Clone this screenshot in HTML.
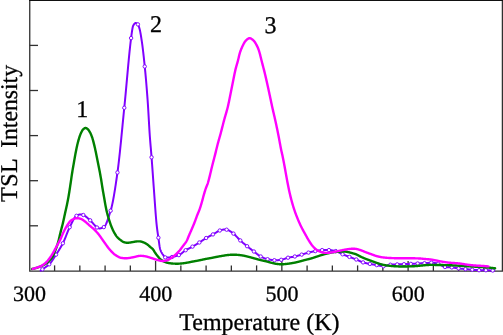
<!DOCTYPE html>
<html><head><meta charset="utf-8"><style>
html,body{margin:0;padding:0;background:#fff;width:503px;height:335px;overflow:hidden;}
svg{display:block;font-family:"Liberation Serif",serif;will-change:transform;}
</style></head><body>
<svg width="503" height="335" viewBox="0 0 503 335">
<path d="M29.75,271.15 V0 M29.1,271.15 H502.4 V0" fill="none" stroke="#303030" stroke-width="1.3"/>
<rect x="29" y="0" width="474" height="1.0" fill="#111"/>
<line x1="29.6" y1="225.80" x2="38" y2="225.80" stroke="#303030" stroke-width="1.3"/>
<line x1="29.6" y1="180.70" x2="38" y2="180.70" stroke="#303030" stroke-width="1.3"/>
<line x1="29.6" y1="135.60" x2="38" y2="135.60" stroke="#303030" stroke-width="1.3"/>
<line x1="29.6" y1="90.50" x2="38" y2="90.50" stroke="#303030" stroke-width="1.3"/>
<line x1="29.6" y1="45.40" x2="38" y2="45.40" stroke="#303030" stroke-width="1.3"/>
<line x1="54.59" y1="271" x2="54.59" y2="265.4" stroke="#303030" stroke-width="1.3"/>
<line x1="79.84" y1="271" x2="79.84" y2="265.4" stroke="#303030" stroke-width="1.3"/>
<line x1="105.09" y1="271" x2="105.09" y2="265.4" stroke="#303030" stroke-width="1.3"/>
<line x1="130.34" y1="271" x2="130.34" y2="265.4" stroke="#303030" stroke-width="1.3"/>
<line x1="155.59" y1="271" x2="155.59" y2="261.0" stroke="#303030" stroke-width="1.3"/>
<line x1="180.85" y1="271" x2="180.85" y2="265.4" stroke="#303030" stroke-width="1.3"/>
<line x1="206.10" y1="271" x2="206.10" y2="265.4" stroke="#303030" stroke-width="1.3"/>
<line x1="231.35" y1="271" x2="231.35" y2="265.4" stroke="#303030" stroke-width="1.3"/>
<line x1="256.60" y1="271" x2="256.60" y2="265.4" stroke="#303030" stroke-width="1.3"/>
<line x1="281.85" y1="271" x2="281.85" y2="261.0" stroke="#303030" stroke-width="1.3"/>
<line x1="307.10" y1="271" x2="307.10" y2="265.4" stroke="#303030" stroke-width="1.3"/>
<line x1="332.35" y1="271" x2="332.35" y2="265.4" stroke="#303030" stroke-width="1.3"/>
<line x1="357.60" y1="271" x2="357.60" y2="265.4" stroke="#303030" stroke-width="1.3"/>
<line x1="382.85" y1="271" x2="382.85" y2="265.4" stroke="#303030" stroke-width="1.3"/>
<line x1="408.11" y1="271" x2="408.11" y2="261.0" stroke="#303030" stroke-width="1.3"/>
<line x1="433.36" y1="271" x2="433.36" y2="265.4" stroke="#303030" stroke-width="1.3"/>
<line x1="458.61" y1="271" x2="458.61" y2="265.4" stroke="#303030" stroke-width="1.3"/>
<line x1="483.86" y1="271" x2="483.86" y2="265.4" stroke="#303030" stroke-width="1.3"/>
<path d="M40.60,270.60 L40.85,270.42 L41.10,270.24 L41.35,270.06 L41.60,269.88 L41.85,269.70 L42.10,269.52 L42.35,269.34 L42.60,269.16 L42.85,268.98 L43.10,268.80 L43.35,268.63 L43.60,268.46 L43.85,268.29 L44.10,268.13 L44.35,267.96 L44.60,267.79 L44.85,267.63 L45.10,267.46 L45.35,267.29 L45.60,267.12 L45.85,266.95 L46.10,266.78 L46.35,266.61 L46.60,266.43 L46.85,266.25 L47.10,266.06 L47.35,265.87 L47.60,265.68 L47.85,265.49 L48.10,265.28 L48.35,265.07 L48.60,264.86 L48.85,264.64 L49.10,264.41 L49.35,264.18 L49.60,263.93 L49.85,263.66 L50.10,263.39 L50.35,263.09 L50.60,262.79 L50.85,262.47 L51.10,262.15 L51.35,261.81 L51.60,261.46 L51.85,261.11 L52.10,260.74 L52.35,260.37 L52.60,260.00 L52.85,259.61 L53.10,259.23 L53.35,258.84 L53.60,258.44 L53.85,258.05 L54.10,257.65 L54.35,257.25 L54.60,256.86 L54.85,256.46 L55.10,256.06 L55.35,255.67 L55.60,255.28 L55.85,254.90 L56.10,254.52 L56.35,254.14 L56.60,253.76 L56.85,253.38 L57.10,253.00 L57.35,252.62 L57.60,252.23 L57.85,251.85 L58.10,251.46 L58.35,251.07 L58.60,250.68 L58.85,250.28 L59.10,249.88 L59.35,249.48 L59.60,249.08 L59.85,248.67 L60.10,248.25 L60.35,247.83 L60.60,247.41 L60.85,246.98 L61.10,246.55 L61.35,246.11 L61.60,245.66 L61.85,245.21 L62.10,244.75 L62.35,244.29 L62.60,243.81 L62.85,243.34 L63.10,242.84 L63.35,242.33 L63.60,241.80 L63.85,241.25 L64.10,240.68 L64.35,240.10 L64.60,239.50 L64.85,238.90 L65.10,238.29 L65.35,237.66 L65.60,237.03 L65.85,236.40 L66.10,235.76 L66.35,235.12 L66.60,234.49 L66.85,233.85 L67.10,233.21 L67.35,232.58 L67.60,231.96 L67.85,231.34 L68.10,230.74 L68.35,230.14 L68.60,229.56 L68.85,228.99 L69.10,228.44 L69.35,227.90 L69.60,227.38 L69.85,226.88 L70.10,226.37 L70.35,225.86 L70.60,225.35 L70.85,224.83 L71.10,224.31 L71.35,223.79 L71.60,223.28 L71.85,222.76 L72.10,222.26 L72.35,221.76 L72.60,221.27 L72.85,220.78 L73.10,220.31 L73.35,219.86 L73.60,219.41 L73.85,218.99 L74.10,218.58 L74.35,218.18 L74.60,217.81 L74.85,217.46 L75.10,217.14 L75.35,216.83 L75.60,216.56 L75.85,216.31 L76.10,216.09 L76.35,215.91 L76.60,215.75 L76.85,215.60 L77.10,215.47 L77.35,215.34 L77.60,215.21 L77.85,215.10 L78.10,214.99 L78.35,214.89 L78.60,214.80 L78.85,214.72 L79.10,214.65 L79.35,214.58 L79.60,214.53 L79.85,214.49 L80.10,214.45 L80.35,214.43 L80.60,214.41 L80.85,214.41 L81.10,214.42 L81.35,214.43 L81.60,214.46 L81.85,214.51 L82.10,214.56 L82.35,214.62 L82.60,214.70 L82.85,214.79 L83.10,214.89 L83.35,215.01 L83.60,215.13 L83.85,215.27 L84.10,215.41 L84.35,215.56 L84.60,215.71 L84.85,215.88 L85.10,216.04 L85.35,216.22 L85.60,216.40 L85.85,216.59 L86.10,216.78 L86.35,216.98 L86.60,217.18 L86.85,217.38 L87.10,217.59 L87.35,217.80 L87.60,218.02 L87.85,218.23 L88.10,218.45 L88.35,218.67 L88.60,218.90 L88.85,219.12 L89.10,219.35 L89.35,219.57 L89.60,219.80 L89.85,220.02 L90.10,220.25 L90.35,220.47 L90.60,220.71 L90.85,220.96 L91.10,221.21 L91.35,221.48 L91.60,221.75 L91.85,222.02 L92.10,222.30 L92.35,222.58 L92.60,222.87 L92.85,223.16 L93.10,223.45 L93.35,223.75 L93.60,224.04 L93.85,224.33 L94.10,224.62 L94.35,224.90 L94.60,225.18 L94.85,225.46 L95.10,225.73 L95.35,225.99 L95.60,226.25 L95.85,226.50 L96.10,226.74 L96.35,226.97 L96.60,227.19 L96.85,227.40 L97.10,227.59 L97.35,227.76 L97.60,227.91 L97.85,228.04 L98.10,228.15 L98.35,228.24 L98.60,228.32 L98.85,228.37 L99.10,228.41 L99.35,228.43 L99.60,228.44 L99.85,228.44 L100.10,228.42 L100.35,228.39 L100.60,228.34 L100.85,228.29 L101.10,228.22 L101.35,228.15 L101.60,228.07 L101.85,227.98 L102.10,227.88 L102.35,227.78 L102.60,227.67 L102.85,227.56 L103.10,227.44 L103.35,227.32 L103.60,227.20 L103.85,227.08 L104.10,226.92 L104.35,226.70 L104.60,226.44 L104.85,226.13 L105.10,225.77 L105.35,225.36 L105.60,224.92 L105.85,224.43 L106.10,223.91 L106.35,223.35 L106.60,222.76 L106.85,222.14 L107.10,221.49 L107.35,220.82 L107.60,220.12 L107.85,219.41 L108.10,218.67 L108.35,217.92 L108.60,217.15 L108.85,216.37 L109.10,215.58 L109.35,214.79 L109.60,213.99 L109.85,213.19 L110.10,212.38 L110.35,211.58 L110.60,210.79 L110.85,209.97 L111.10,209.10 L111.35,208.17 L111.60,207.18 L111.85,206.14 L112.10,205.05 L112.35,203.91 L112.60,202.72 L112.85,201.49 L113.10,200.20 L113.35,198.88 L113.60,197.51 L113.85,196.11 L114.10,194.66 L114.35,193.18 L114.60,191.67 L114.85,190.12 L115.10,188.54 L115.35,186.93 L115.60,185.30 L115.85,183.64 L116.10,181.95 L116.35,180.24 L116.60,178.51 L116.85,176.77 L117.10,175.00 L117.35,173.22 L117.60,171.42 L117.85,169.54 L118.10,167.59 L118.35,165.58 L118.60,163.50 L118.85,161.36 L119.10,159.16 L119.35,156.91 L119.60,154.61 L119.85,152.27 L120.10,149.89 L120.35,147.47 L120.60,145.02 L120.85,142.54 L121.10,140.04 L121.35,137.51 L121.60,134.97 L121.85,132.42 L122.10,129.86 L122.35,127.29 L122.60,124.72 L122.85,122.16 L123.10,119.60 L123.35,117.05 L123.60,114.52 L123.85,112.00 L124.10,109.51 L124.35,107.05 L124.60,104.54 L124.85,101.98 L125.10,99.38 L125.35,96.74 L125.60,94.06 L125.85,91.35 L126.10,88.62 L126.35,85.87 L126.60,83.11 L126.85,80.34 L127.10,77.57 L127.35,74.81 L127.60,72.06 L127.85,69.33 L128.10,66.62 L128.35,63.94 L128.60,61.30 L128.85,58.70 L129.10,56.14 L129.35,53.64 L129.60,51.19 L129.85,48.81 L130.10,46.50 L130.35,44.26 L130.60,42.11 L130.85,40.05 L131.10,38.07 L131.35,36.14 L131.60,34.24 L131.85,32.41 L132.10,30.69 L132.35,29.13 L132.60,27.77 L132.85,26.65 L133.10,25.83 L133.35,25.32 L133.60,24.94 L133.85,24.57 L134.10,24.22 L134.35,23.90 L134.60,23.61 L134.85,23.37 L135.10,23.19 L135.35,23.06 L135.60,23.00 L135.85,23.01 L136.10,23.07 L136.35,23.17 L136.60,23.29 L136.85,23.45 L137.10,23.63 L137.35,23.84 L137.60,24.07 L137.85,24.33 L138.10,24.64 L138.35,25.12 L138.60,25.73 L138.85,26.46 L139.10,27.26 L139.35,28.12 L139.60,29.00 L139.85,29.97 L140.10,31.09 L140.35,32.35 L140.60,33.72 L140.85,35.19 L141.10,36.74 L141.35,38.35 L141.60,40.00 L141.85,41.67 L142.10,43.38 L142.35,45.20 L142.60,47.12 L142.85,49.14 L143.10,51.25 L143.35,53.43 L143.60,55.68 L143.85,57.98 L144.10,60.33 L144.35,62.71 L144.60,65.12 L144.85,67.56 L145.10,70.07 L145.35,72.68 L145.60,75.37 L145.85,78.15 L146.10,81.02 L146.35,83.97 L146.60,87.01 L146.85,90.14 L147.10,93.34 L147.35,96.63 L147.60,100.00 L147.85,103.61 L148.10,107.55 L148.35,111.73 L148.60,116.06 L148.85,120.43 L149.10,124.75 L149.35,128.94 L149.60,132.88 L149.85,136.49 L150.10,139.79 L150.35,142.86 L150.60,145.80 L150.85,148.68 L151.10,151.58 L151.35,154.58 L151.60,157.76 L151.85,161.08 L152.10,164.48 L152.35,167.93 L152.60,171.41 L152.85,174.92 L153.10,178.43 L153.35,181.92 L153.60,185.38 L153.85,188.79 L154.10,192.14 L154.35,195.57 L154.60,199.06 L154.85,202.57 L155.10,206.06 L155.35,209.49 L155.60,212.82 L155.85,216.01 L156.10,219.01 L156.35,221.79 L156.60,224.30 L156.85,226.56 L157.10,228.62 L157.35,230.54 L157.60,232.35 L157.85,234.08 L158.10,235.76 L158.35,237.45 L158.60,239.20 L158.85,241.06 L159.10,242.95 L159.35,244.77 L159.60,246.43 L159.85,247.86 L160.10,248.97 L160.35,249.73 L160.60,250.41 L160.85,251.02 L161.10,251.59 L161.35,252.11 L161.60,252.59 L161.85,253.03 L162.10,253.44 L162.35,253.83 L162.60,254.19 L162.85,254.53 L163.10,254.88 L163.35,255.26 L163.60,255.65 L163.85,256.05 L164.10,256.42 L164.35,256.75 L164.60,257.04 L164.85,257.25 L165.10,257.38 L165.35,257.42 L165.60,257.44 L165.85,257.47 L166.10,257.48 L166.35,257.50 L166.60,257.51 L166.85,257.52 L167.10,257.52 L167.35,257.52 L167.60,257.52 L167.85,257.52 L168.10,257.51 L168.35,257.50 L168.60,257.48 L168.85,257.46 L169.10,257.44 L169.35,257.42 L169.60,257.39 L169.85,257.36 L170.10,257.33 L170.35,257.29 L170.60,257.26 L170.85,257.22 L171.10,257.18 L171.35,257.13 L171.60,257.09 L171.85,257.04 L172.10,256.99 L172.35,256.94 L172.60,256.88 L172.85,256.83 L173.10,256.78 L173.35,256.73 L173.60,256.67 L173.85,256.62 L174.10,256.56 L174.35,256.50 L174.60,256.44 L174.85,256.38 L175.10,256.32 L175.35,256.26 L175.60,256.19 L175.85,256.13 L176.10,256.06 L176.35,255.98 L176.60,255.91 L176.85,255.83 L177.10,255.75 L177.35,255.67 L177.60,255.58 L177.85,255.49 L178.10,255.40 L178.35,255.31 L178.60,255.21 L178.85,255.10 L179.10,254.99 L179.35,254.87 L179.60,254.73 L179.85,254.59 L180.10,254.43 L180.35,254.27 L180.60,254.10 L180.85,253.92 L181.10,253.73 L181.35,253.54 L181.60,253.35 L181.85,253.15 L182.10,252.94 L182.35,252.74 L182.60,252.53 L182.85,252.33 L183.10,252.12 L183.35,251.91 L183.60,251.71 L183.85,251.51 L184.10,251.31 L184.35,251.12 L184.60,250.93 L184.85,250.75 L185.10,250.57 L185.35,250.41 L185.60,250.25 L185.85,250.10 L186.10,249.95 L186.35,249.81 L186.60,249.67 L186.85,249.53 L187.10,249.39 L187.35,249.26 L187.60,249.13 L187.85,249.00 L188.10,248.87 L188.35,248.74 L188.60,248.61 L188.85,248.49 L189.10,248.36 L189.35,248.24 L189.60,248.11 L189.85,247.99 L190.10,247.86 L190.35,247.74 L190.60,247.61 L190.85,247.49 L191.10,247.36 L191.35,247.23 L191.60,247.09 L191.85,246.96 L192.10,246.82 L192.35,246.69 L192.60,246.54 L192.85,246.40 L193.10,246.26 L193.35,246.11 L193.60,245.97 L193.85,245.82 L194.10,245.68 L194.35,245.53 L194.60,245.39 L194.85,245.24 L195.10,245.09 L195.35,244.94 L195.60,244.79 L195.85,244.64 L196.10,244.49 L196.35,244.34 L196.60,244.19 L196.85,244.03 L197.10,243.88 L197.35,243.73 L197.60,243.57 L197.85,243.42 L198.10,243.26 L198.35,243.11 L198.60,242.95 L198.85,242.80 L199.10,242.64 L199.35,242.48 L199.60,242.33 L199.85,242.16 L200.10,242.00 L200.35,241.84 L200.60,241.67 L200.85,241.50 L201.10,241.33 L201.35,241.17 L201.60,240.99 L201.85,240.82 L202.10,240.65 L202.35,240.48 L202.60,240.31 L202.85,240.14 L203.10,239.97 L203.35,239.80 L203.60,239.63 L203.85,239.46 L204.10,239.29 L204.35,239.13 L204.60,238.96 L204.85,238.80 L205.10,238.64 L205.35,238.48 L205.60,238.33 L205.85,238.18 L206.10,238.03 L206.35,237.88 L206.60,237.74 L206.85,237.60 L207.10,237.46 L207.35,237.32 L207.60,237.18 L207.85,237.05 L208.10,236.92 L208.35,236.79 L208.60,236.66 L208.85,236.53 L209.10,236.40 L209.35,236.27 L209.60,236.14 L209.85,236.02 L210.10,235.89 L210.35,235.77 L210.60,235.64 L210.85,235.51 L211.10,235.38 L211.35,235.26 L211.60,235.13 L211.85,235.00 L212.10,234.87 L212.35,234.73 L212.60,234.60 L212.85,234.47 L213.10,234.33 L213.35,234.19 L213.60,234.04 L213.85,233.89 L214.10,233.74 L214.35,233.59 L214.60,233.44 L214.85,233.28 L215.10,233.12 L215.35,232.97 L215.60,232.81 L215.85,232.65 L216.10,232.49 L216.35,232.34 L216.60,232.18 L216.85,232.03 L217.10,231.88 L217.35,231.73 L217.60,231.58 L217.85,231.44 L218.10,231.30 L218.35,231.17 L218.60,231.04 L218.85,230.92 L219.10,230.80 L219.35,230.68 L219.60,230.58 L219.85,230.48 L220.10,230.38 L220.35,230.29 L220.60,230.21 L220.85,230.13 L221.10,230.06 L221.35,229.99 L221.60,229.92 L221.85,229.86 L222.10,229.81 L222.35,229.76 L222.60,229.72 L222.85,229.68 L223.10,229.64 L223.35,229.61 L223.60,229.59 L223.85,229.57 L224.10,229.56 L224.35,229.55 L224.60,229.55 L224.85,229.55 L225.10,229.55 L225.35,229.57 L225.60,229.58 L225.85,229.60 L226.10,229.63 L226.35,229.66 L226.60,229.70 L226.85,229.74 L227.10,229.80 L227.35,229.86 L227.60,229.94 L227.85,230.03 L228.10,230.12 L228.35,230.23 L228.60,230.34 L228.85,230.46 L229.10,230.59 L229.35,230.73 L229.60,230.87 L229.85,231.02 L230.10,231.17 L230.35,231.34 L230.60,231.50 L230.85,231.67 L231.10,231.85 L231.35,232.03 L231.60,232.21 L231.85,232.39 L232.10,232.58 L232.35,232.77 L232.60,232.96 L232.85,233.15 L233.10,233.34 L233.35,233.53 L233.60,233.73 L233.85,233.93 L234.10,234.14 L234.35,234.36 L234.60,234.59 L234.85,234.82 L235.10,235.06 L235.35,235.31 L235.60,235.56 L235.85,235.82 L236.10,236.08 L236.35,236.34 L236.60,236.61 L236.85,236.88 L237.10,237.15 L237.35,237.42 L237.60,237.69 L237.85,237.96 L238.10,238.22 L238.35,238.49 L238.60,238.75 L238.85,239.02 L239.10,239.27 L239.35,239.53 L239.60,239.77 L239.85,240.02 L240.10,240.25 L240.35,240.48 L240.60,240.71 L240.85,240.93 L241.10,241.16 L241.35,241.38 L241.60,241.60 L241.85,241.82 L242.10,242.04 L242.35,242.26 L242.60,242.47 L242.85,242.69 L243.10,242.90 L243.35,243.12 L243.60,243.33 L243.85,243.54 L244.10,243.75 L244.35,243.96 L244.60,244.17 L244.85,244.37 L245.10,244.58 L245.35,244.79 L245.60,244.99 L245.85,245.20 L246.10,245.40 L246.35,245.60 L246.60,245.81 L246.85,246.01 L247.10,246.21 L247.35,246.41 L247.60,246.62 L247.85,246.82 L248.10,247.02 L248.35,247.21 L248.60,247.41 L248.85,247.61 L249.10,247.81 L249.35,248.00 L249.60,248.20 L249.85,248.39 L250.10,248.59 L250.35,248.78 L250.60,248.98 L250.85,249.17 L251.10,249.36 L251.35,249.55 L251.60,249.75 L251.85,249.94 L252.10,250.13 L252.35,250.32 L252.60,250.51 L252.85,250.70 L253.10,250.89 L253.35,251.08 L253.60,251.27 L253.85,251.46 L254.10,251.65 L254.35,251.84 L254.60,252.03 L254.85,252.23 L255.10,252.43 L255.35,252.63 L255.60,252.83 L255.85,253.03 L256.10,253.23 L256.35,253.43 L256.60,253.63 L256.85,253.83 L257.10,254.02 L257.35,254.22 L257.60,254.41 L257.85,254.60 L258.10,254.79 L258.35,254.97 L258.60,255.16 L258.85,255.33 L259.10,255.51 L259.35,255.67 L259.60,255.84 L259.85,255.99 L260.10,256.15 L260.35,256.29 L260.60,256.43 L260.85,256.56 L261.10,256.69 L261.35,256.82 L261.60,256.95 L261.85,257.08 L262.10,257.20 L262.35,257.32 L262.60,257.44 L262.85,257.56 L263.10,257.68 L263.35,257.79 L263.60,257.90 L263.85,258.01 L264.10,258.11 L264.35,258.21 L264.60,258.31 L264.85,258.41 L265.10,258.50 L265.35,258.59 L265.60,258.67 L265.85,258.76 L266.10,258.83 L266.35,258.91 L266.60,258.98 L266.85,259.04 L267.10,259.10 L267.35,259.16 L267.60,259.21 L267.85,259.26 L268.10,259.31 L268.35,259.36 L268.60,259.41 L268.85,259.46 L269.10,259.51 L269.35,259.56 L269.60,259.60 L269.85,259.65 L270.10,259.69 L270.35,259.74 L270.60,259.78 L270.85,259.82 L271.10,259.86 L271.35,259.90 L271.60,259.94 L271.85,259.97 L272.10,260.01 L272.35,260.04 L272.60,260.07 L272.85,260.09 L273.10,260.12 L273.35,260.14 L273.60,260.16 L273.85,260.18 L274.10,260.19 L274.35,260.20 L274.60,260.21 L274.85,260.21 L275.10,260.22 L275.35,260.22 L275.60,260.22 L275.85,260.22 L276.10,260.22 L276.35,260.22 L276.60,260.21 L276.85,260.21 L277.10,260.20 L277.35,260.19 L277.60,260.17 L277.85,260.16 L278.10,260.15 L278.35,260.13 L278.60,260.11 L278.85,260.09 L279.10,260.06 L279.35,260.04 L279.60,260.01 L279.85,259.99 L280.10,259.96 L280.35,259.92 L280.60,259.89 L280.85,259.85 L281.10,259.82 L281.35,259.77 L281.60,259.73 L281.85,259.67 L282.10,259.62 L282.35,259.55 L282.60,259.48 L282.85,259.41 L283.10,259.33 L283.35,259.25 L283.60,259.17 L283.85,259.08 L284.10,259.00 L284.35,258.91 L284.60,258.82 L284.85,258.73 L285.10,258.63 L285.35,258.54 L285.60,258.45 L285.85,258.36 L286.10,258.28 L286.35,258.19 L286.60,258.11 L286.85,258.03 L287.10,257.95 L287.35,257.87 L287.60,257.81 L287.85,257.74 L288.10,257.68 L288.35,257.63 L288.60,257.57 L288.85,257.52 L289.10,257.47 L289.35,257.43 L289.60,257.38 L289.85,257.34 L290.10,257.30 L290.35,257.26 L290.60,257.22 L290.85,257.19 L291.10,257.15 L291.35,257.11 L291.60,257.08 L291.85,257.04 L292.10,257.00 L292.35,256.96 L292.60,256.92 L292.85,256.88 L293.10,256.84 L293.35,256.80 L293.60,256.76 L293.85,256.71 L294.10,256.66 L294.35,256.61 L294.60,256.56 L294.85,256.50 L295.10,256.44 L295.35,256.38 L295.60,256.32 L295.85,256.25 L296.10,256.19 L296.35,256.12 L296.60,256.06 L296.85,255.99 L297.10,255.92 L297.35,255.85 L297.60,255.78 L297.85,255.71 L298.10,255.64 L298.35,255.57 L298.60,255.50 L298.85,255.42 L299.10,255.35 L299.35,255.28 L299.60,255.20 L299.85,255.13 L300.10,255.06 L300.35,254.98 L300.60,254.91 L300.85,254.84 L301.10,254.76 L301.35,254.69 L301.60,254.62 L301.85,254.55 L302.10,254.47 L302.35,254.40 L302.60,254.33 L302.85,254.25 L303.10,254.18 L303.35,254.10 L303.60,254.02 L303.85,253.95 L304.10,253.87 L304.35,253.80 L304.60,253.72 L304.85,253.64 L305.10,253.57 L305.35,253.49 L305.60,253.41 L305.85,253.34 L306.10,253.26 L306.35,253.19 L306.60,253.12 L306.85,253.05 L307.10,252.97 L307.35,252.90 L307.60,252.83 L307.85,252.77 L308.10,252.70 L308.35,252.64 L308.60,252.57 L308.85,252.51 L309.10,252.45 L309.35,252.38 L309.60,252.32 L309.85,252.26 L310.10,252.20 L310.35,252.14 L310.60,252.08 L310.85,252.02 L311.10,251.97 L311.35,251.91 L311.60,251.85 L311.85,251.79 L312.10,251.74 L312.35,251.68 L312.60,251.63 L312.85,251.58 L313.10,251.53 L313.35,251.47 L313.60,251.42 L313.85,251.37 L314.10,251.32 L314.35,251.28 L314.60,251.23 L314.85,251.18 L315.10,251.14 L315.35,251.09 L315.60,251.05 L315.85,251.00 L316.10,250.96 L316.35,250.92 L316.60,250.87 L316.85,250.83 L317.10,250.78 L317.35,250.74 L317.60,250.69 L317.85,250.65 L318.10,250.61 L318.35,250.57 L318.60,250.53 L318.85,250.49 L319.10,250.45 L319.35,250.41 L319.60,250.38 L319.85,250.34 L320.10,250.31 L320.35,250.27 L320.60,250.24 L320.85,250.22 L321.10,250.19 L321.35,250.16 L321.60,250.14 L321.85,250.12 L322.10,250.10 L322.35,250.09 L322.60,250.07 L322.85,250.06 L323.10,250.05 L323.35,250.04 L323.60,250.03 L323.85,250.02 L324.10,250.02 L324.35,250.01 L324.60,250.01 L324.85,250.01 L325.10,250.01 L325.35,250.01 L325.60,250.01 L325.85,250.01 L326.10,250.02 L326.35,250.02 L326.60,250.03 L326.85,250.03 L327.10,250.04 L327.35,250.04 L327.60,250.05 L327.85,250.06 L328.10,250.07 L328.35,250.08 L328.60,250.09 L328.85,250.10 L329.10,250.11 L329.35,250.12 L329.60,250.13 L329.85,250.15 L330.10,250.17 L330.35,250.19 L330.60,250.21 L330.85,250.23 L331.10,250.26 L331.35,250.29 L331.60,250.32 L331.85,250.35 L332.10,250.39 L332.35,250.42 L332.60,250.46 L332.85,250.50 L333.10,250.54 L333.35,250.59 L333.60,250.63 L333.85,250.68 L334.10,250.73 L334.35,250.78 L334.60,250.83 L334.85,250.88 L335.10,250.94 L335.35,251.00 L335.60,251.06 L335.85,251.12 L336.10,251.19 L336.35,251.26 L336.60,251.35 L336.85,251.44 L337.10,251.54 L337.35,251.64 L337.60,251.75 L337.85,251.87 L338.10,251.99 L338.35,252.11 L338.60,252.24 L338.85,252.37 L339.10,252.50 L339.35,252.64 L339.60,252.78 L339.85,252.91 L340.10,253.05 L340.35,253.19 L340.60,253.32 L340.85,253.46 L341.10,253.59 L341.35,253.72 L341.60,253.84 L341.85,253.96 L342.10,254.08 L342.35,254.19 L342.60,254.30 L342.85,254.40 L343.10,254.50 L343.35,254.60 L343.60,254.70 L343.85,254.80 L344.10,254.90 L344.35,255.00 L344.60,255.09 L344.85,255.19 L345.10,255.28 L345.35,255.38 L345.60,255.47 L345.85,255.57 L346.10,255.66 L346.35,255.75 L346.60,255.85 L346.85,255.94 L347.10,256.03 L347.35,256.12 L347.60,256.22 L347.85,256.31 L348.10,256.40 L348.35,256.49 L348.60,256.59 L348.85,256.68 L349.10,256.78 L349.35,256.87 L349.60,256.97 L349.85,257.06 L350.10,257.16 L350.35,257.25 L350.60,257.34 L350.85,257.44 L351.10,257.53 L351.35,257.63 L351.60,257.72 L351.85,257.81 L352.10,257.91 L352.35,258.00 L352.60,258.09 L352.85,258.19 L353.10,258.28 L353.35,258.38 L353.60,258.47 L353.85,258.57 L354.10,258.66 L354.35,258.76 L354.60,258.85 L354.85,258.95 L355.10,259.05 L355.35,259.14 L355.60,259.24 L355.85,259.34 L356.10,259.44 L356.35,259.54 L356.60,259.64 L356.85,259.75 L357.10,259.86 L357.35,259.97 L357.60,260.08 L357.85,260.19 L358.10,260.31 L358.35,260.43 L358.60,260.54 L358.85,260.66 L359.10,260.78 L359.35,260.90 L359.60,261.01 L359.85,261.13 L360.10,261.24 L360.35,261.36 L360.60,261.47 L360.85,261.58 L361.10,261.68 L361.35,261.79 L361.60,261.89 L361.85,261.99 L362.10,262.08 L362.35,262.17 L362.60,262.25 L362.85,262.33 L363.10,262.41 L363.35,262.48 L363.60,262.55 L363.85,262.62 L364.10,262.68 L364.35,262.75 L364.60,262.81 L364.85,262.87 L365.10,262.93 L365.35,262.99 L365.60,263.05 L365.85,263.10 L366.10,263.16 L366.35,263.21 L366.60,263.26 L366.85,263.32 L367.10,263.37 L367.35,263.42 L367.60,263.47 L367.85,263.51 L368.10,263.56 L368.35,263.61 L368.60,263.66 L368.85,263.70 L369.10,263.75 L369.35,263.80 L369.60,263.84 L369.85,263.89 L370.10,263.94 L370.35,263.98 L370.60,264.03 L370.85,264.08 L371.10,264.12 L371.35,264.17 L371.60,264.21 L371.85,264.26 L372.10,264.30 L372.35,264.35 L372.60,264.39 L372.85,264.43 L373.10,264.48 L373.35,264.52 L373.60,264.57 L373.85,264.61 L374.10,264.65 L374.35,264.70 L374.60,264.74 L374.85,264.78 L375.10,264.82 L375.35,264.87 L375.60,264.91 L375.85,264.95 L376.10,264.99 L376.35,265.04 L376.60,265.08 L376.85,265.12 L377.10,265.17 L377.35,265.21 L377.60,265.26 L377.85,265.31 L378.10,265.36 L378.35,265.41 L378.60,265.47 L378.85,265.52 L379.10,265.57 L379.35,265.62 L379.60,265.67 L379.85,265.72 L380.10,265.77 L380.35,265.82 L380.60,265.87 L380.85,265.91 L381.10,265.95 L381.35,265.99 L381.60,266.03 L381.85,266.07 L382.10,266.10 L382.35,266.13 L382.60,266.15 L382.85,266.17 L383.10,266.18 L383.35,266.19 L383.60,266.20 L383.85,266.20 L384.10,266.18 L384.35,266.16 L384.60,266.13 L384.85,266.08 L385.10,266.04 L385.35,265.98 L385.60,265.92 L385.85,265.85 L386.10,265.78 L386.35,265.71 L386.60,265.63 L386.85,265.55 L387.10,265.47 L387.35,265.39 L387.60,265.31 L387.85,265.24 L388.10,265.16 L388.35,265.09 L388.60,265.02 L388.85,264.95 L389.10,264.89 L389.35,264.84 L389.60,264.79 L389.85,264.75 L390.10,264.72 L390.35,264.70 L390.60,264.69 L390.85,264.67 L391.10,264.66 L391.35,264.64 L391.60,264.63 L391.85,264.61 L392.10,264.60 L392.35,264.59 L392.60,264.58 L392.85,264.56 L393.10,264.55 L393.35,264.54 L393.60,264.53 L393.85,264.52 L394.10,264.51 L394.35,264.50 L394.60,264.49 L394.85,264.48 L395.10,264.47 L395.35,264.46 L395.60,264.45 L395.85,264.44 L396.10,264.44 L396.35,264.43 L396.60,264.42 L396.85,264.41 L397.10,264.40 L397.35,264.39 L397.60,264.39 L397.85,264.38 L398.10,264.37 L398.35,264.37 L398.60,264.36 L398.85,264.35 L399.10,264.34 L399.35,264.34 L399.60,264.33 L399.85,264.32 L400.10,264.32 L400.35,264.31 L400.60,264.30 L400.85,264.30 L401.10,264.29 L401.35,264.28 L401.60,264.28 L401.85,264.27 L402.10,264.26 L402.35,264.25 L402.60,264.25 L402.85,264.24 L403.10,264.23 L403.35,264.22 L403.60,264.21 L403.85,264.21 L404.10,264.20 L404.35,264.19 L404.60,264.18 L404.85,264.17 L405.10,264.16 L405.35,264.15 L405.60,264.14 L405.85,264.13 L406.10,264.12 L406.35,264.11 L406.60,264.10 L406.85,264.09 L407.10,264.08 L407.35,264.07 L407.60,264.05 L407.85,264.04 L408.10,264.03 L408.35,264.02 L408.60,264.01 L408.85,264.00 L409.10,263.99 L409.35,263.97 L409.60,263.96 L409.85,263.95 L410.10,263.94 L410.35,263.92 L410.60,263.91 L410.85,263.90 L411.10,263.89 L411.35,263.87 L411.60,263.86 L411.85,263.85 L412.10,263.83 L412.35,263.82 L412.60,263.80 L412.85,263.79 L413.10,263.77 L413.35,263.76 L413.60,263.74 L413.85,263.73 L414.10,263.71 L414.35,263.69 L414.60,263.68 L414.85,263.66 L415.10,263.65 L415.35,263.63 L415.60,263.62 L415.85,263.60 L416.10,263.59 L416.35,263.57 L416.60,263.56 L416.85,263.54 L417.10,263.53 L417.35,263.52 L417.60,263.50 L417.85,263.49 L418.10,263.48 L418.35,263.47 L418.60,263.45 L418.85,263.44 L419.10,263.43 L419.35,263.42 L419.60,263.41 L419.85,263.40 L420.10,263.39 L420.35,263.38 L420.60,263.37 L420.85,263.36 L421.10,263.35 L421.35,263.34 L421.60,263.33 L421.85,263.32 L422.10,263.31 L422.35,263.30 L422.60,263.29 L422.85,263.27 L423.10,263.26 L423.35,263.25 L423.60,263.24 L423.85,263.23 L424.10,263.22 L424.35,263.21 L424.60,263.19 L424.85,263.18 L425.10,263.16 L425.35,263.15 L425.60,263.13 L425.85,263.11 L426.10,263.10 L426.35,263.08 L426.60,263.06 L426.85,263.04 L427.10,263.01 L427.35,262.99 L427.60,262.97 L427.85,262.95 L428.10,262.93 L428.35,262.91 L428.60,262.89 L428.85,262.87 L429.10,262.85 L429.35,262.83 L429.60,262.81 L429.85,262.79 L430.10,262.77 L430.35,262.75 L430.60,262.74 L430.85,262.72 L431.10,262.71 L431.35,262.70 L431.60,262.69 L431.85,262.69 L432.10,262.69 L432.35,262.70 L432.60,262.71 L432.85,262.72 L433.10,262.74 L433.35,262.77 L433.60,262.79 L433.85,262.83 L434.10,262.86 L434.35,262.90 L434.60,262.94 L434.85,262.98 L435.10,263.03 L435.35,263.08 L435.60,263.13 L435.85,263.18 L436.10,263.23 L436.35,263.29 L436.60,263.34 L436.85,263.40 L437.10,263.46 L437.35,263.52 L437.60,263.58 L437.85,263.64 L438.10,263.69 L438.35,263.76 L438.60,263.84 L438.85,263.93 L439.10,264.04 L439.35,264.15 L439.60,264.27 L439.85,264.41 L440.10,264.54 L440.35,264.69 L440.60,264.84 L440.85,264.99 L441.10,265.15 L441.35,265.30 L441.60,265.46 L441.85,265.62 L442.10,265.77 L442.35,265.92 L442.60,266.07 L442.85,266.21 L443.10,266.34 L443.35,266.47 L443.60,266.58 L443.85,266.69 L444.10,266.78 L444.35,266.86 L444.60,266.93 L444.85,266.98 L445.10,267.02 L445.35,267.06 L445.60,267.09 L445.85,267.11 L446.10,267.13 L446.35,267.15 L446.60,267.17 L446.85,267.18 L447.10,267.19 L447.35,267.20 L447.60,267.21 L447.85,267.21 L448.10,267.22 L448.35,267.22 L448.60,267.23 L448.85,267.23 L449.10,267.23 L449.35,267.24 L449.60,267.25 L449.85,267.25 L450.10,267.26 L450.35,267.28 L450.60,267.29 L450.85,267.31 L451.10,267.33 L451.35,267.35 L451.60,267.38 L451.85,267.41 L452.10,267.44 L452.35,267.48 L452.60,267.51 L452.85,267.55 L453.10,267.59 L453.35,267.62 L453.60,267.66 L453.85,267.70 L454.10,267.74 L454.35,267.78 L454.60,267.82 L454.85,267.86 L455.10,267.90 L455.35,267.94 L455.60,267.98 L455.85,268.01 L456.10,268.05 L456.35,268.09 L456.60,268.13 L456.85,268.17 L457.10,268.20 L457.35,268.24 L457.60,268.27 L457.85,268.31 L458.10,268.34 L458.35,268.37 L458.60,268.40 L458.85,268.43 L459.10,268.46 L459.35,268.49 L459.60,268.52 L459.85,268.54 L460.10,268.57 L460.35,268.60 L460.60,268.63 L460.85,268.65 L461.10,268.68 L461.35,268.71 L461.60,268.73 L461.85,268.76 L462.10,268.78 L462.35,268.81 L462.60,268.83 L462.85,268.86 L463.10,268.88 L463.35,268.90 L463.60,268.93 L463.85,268.95 L464.10,268.98 L464.35,269.00 L464.60,269.02 L464.85,269.05 L465.10,269.07 L465.35,269.09 L465.60,269.12 L465.85,269.14 L466.10,269.16 L466.35,269.19 L466.60,269.21 L466.85,269.23 L467.10,269.26 L467.35,269.28 L467.60,269.30 L467.85,269.32 L468.10,269.35 L468.35,269.37 L468.60,269.39 L468.85,269.41 L469.10,269.44 L469.35,269.46 L469.60,269.48 L469.85,269.50 L470.10,269.52 L470.35,269.54 L470.60,269.56 L470.85,269.59 L471.10,269.61 L471.35,269.63 L471.60,269.65 L471.85,269.67 L472.10,269.69 L472.35,269.71 L472.60,269.73 L472.85,269.75 L473.10,269.77 L473.35,269.79 L473.60,269.82 L473.85,269.84 L474.10,269.86 L474.35,269.88 L474.60,269.90 L474.85,269.93 L475.10,269.95 L475.35,269.97 L475.60,269.99 L475.85,270.01 L476.10,270.03 L476.35,270.05 L476.60,270.07 L476.85,270.09 L477.10,270.10 L477.35,270.12 L477.60,270.13 L477.85,270.15 L478.10,270.16 L478.35,270.17 L478.60,270.18 L478.85,270.19 L479.10,270.20 L479.35,270.21 L479.60,270.21 L479.85,270.22 L480.10,270.22 L480.35,270.22 L480.60,270.22 L480.85,270.22 L481.10,270.22 L481.35,270.22 L481.60,270.22 L481.85,270.22 L482.10,270.22 L482.35,270.21 L482.60,270.21 L482.85,270.21 L483.10,270.21 L483.35,270.20 L483.60,270.20 L483.85,270.20 L484.10,270.20 L484.35,270.19 L484.60,270.19 L484.85,270.19 L485.10,270.19 L485.35,270.19 L485.60,270.20 L485.85,270.20 L486.10,270.20 L486.35,270.21 L486.60,270.22 L486.85,270.22 L487.10,270.23 L487.35,270.24 L487.60,270.26 L487.85,270.27 L488.10,270.28 L488.35,270.29 L488.60,270.31 L488.85,270.32 L489.10,270.34 L489.35,270.35 L489.60,270.36 L489.85,270.38 L490.10,270.39 L490.35,270.41 L490.60,270.42 L490.85,270.43 L491.10,270.44 L491.35,270.46 L491.60,270.47 L491.85,270.48 L492.10,270.48 L492.35,270.49 L492.60,270.50 L492.85,270.50 L493.10,270.49 L493.35,270.46 L493.60,270.42 L493.85,270.38 L494.10,270.34 L494.30,270.30" fill="none" stroke="#8000ff" stroke-width="2.0" stroke-linejoin="round" stroke-linecap="round"/>
<circle cx="42.40" cy="269.30" r="1.7" fill="#fff" stroke="#8000ff" stroke-width="0.95"/>
<circle cx="49.22" cy="264.30" r="1.7" fill="#fff" stroke="#8000ff" stroke-width="0.95"/>
<circle cx="56.05" cy="254.60" r="1.7" fill="#fff" stroke="#8000ff" stroke-width="0.95"/>
<circle cx="62.87" cy="243.30" r="1.7" fill="#fff" stroke="#8000ff" stroke-width="0.95"/>
<circle cx="69.69" cy="227.20" r="1.7" fill="#fff" stroke="#8000ff" stroke-width="0.95"/>
<circle cx="76.51" cy="215.80" r="1.7" fill="#fff" stroke="#8000ff" stroke-width="0.95"/>
<circle cx="83.34" cy="215.00" r="1.7" fill="#fff" stroke="#8000ff" stroke-width="0.95"/>
<circle cx="90.16" cy="220.30" r="1.7" fill="#fff" stroke="#8000ff" stroke-width="0.95"/>
<circle cx="96.98" cy="227.50" r="1.7" fill="#fff" stroke="#8000ff" stroke-width="0.95"/>
<circle cx="103.81" cy="227.10" r="1.7" fill="#fff" stroke="#8000ff" stroke-width="0.95"/>
<circle cx="110.63" cy="210.70" r="1.7" fill="#fff" stroke="#8000ff" stroke-width="0.95"/>
<circle cx="117.45" cy="172.50" r="1.7" fill="#fff" stroke="#8000ff" stroke-width="0.95"/>
<circle cx="124.27" cy="107.80" r="1.7" fill="#fff" stroke="#8000ff" stroke-width="0.95"/>
<circle cx="131.10" cy="38.10" r="1.7" fill="#fff" stroke="#8000ff" stroke-width="0.95"/>
<circle cx="137.92" cy="24.40" r="1.7" fill="#fff" stroke="#8000ff" stroke-width="0.95"/>
<circle cx="144.74" cy="66.50" r="1.7" fill="#fff" stroke="#8000ff" stroke-width="0.95"/>
<circle cx="151.56" cy="157.30" r="1.7" fill="#fff" stroke="#8000ff" stroke-width="0.95"/>
<circle cx="158.39" cy="237.70" r="1.7" fill="#fff" stroke="#8000ff" stroke-width="0.95"/>
<circle cx="165.21" cy="257.40" r="1.7" fill="#fff" stroke="#8000ff" stroke-width="0.95"/>
<circle cx="172.03" cy="257.00" r="1.7" fill="#fff" stroke="#8000ff" stroke-width="0.95"/>
<circle cx="178.86" cy="255.10" r="1.7" fill="#fff" stroke="#8000ff" stroke-width="0.95"/>
<circle cx="185.68" cy="250.20" r="1.7" fill="#fff" stroke="#8000ff" stroke-width="0.95"/>
<circle cx="192.50" cy="246.60" r="1.7" fill="#fff" stroke="#8000ff" stroke-width="0.95"/>
<circle cx="199.32" cy="242.50" r="1.7" fill="#fff" stroke="#8000ff" stroke-width="0.95"/>
<circle cx="206.15" cy="238.00" r="1.7" fill="#fff" stroke="#8000ff" stroke-width="0.95"/>
<circle cx="212.97" cy="234.40" r="1.7" fill="#fff" stroke="#8000ff" stroke-width="0.95"/>
<circle cx="219.79" cy="230.50" r="1.7" fill="#fff" stroke="#8000ff" stroke-width="0.95"/>
<circle cx="226.62" cy="229.70" r="1.7" fill="#fff" stroke="#8000ff" stroke-width="0.95"/>
<circle cx="233.44" cy="233.60" r="1.7" fill="#fff" stroke="#8000ff" stroke-width="0.95"/>
<circle cx="240.26" cy="240.40" r="1.7" fill="#fff" stroke="#8000ff" stroke-width="0.95"/>
<circle cx="247.08" cy="246.20" r="1.7" fill="#fff" stroke="#8000ff" stroke-width="0.95"/>
<circle cx="253.91" cy="251.50" r="1.7" fill="#fff" stroke="#8000ff" stroke-width="0.95"/>
<circle cx="260.73" cy="256.50" r="1.7" fill="#fff" stroke="#8000ff" stroke-width="0.95"/>
<circle cx="267.55" cy="259.20" r="1.7" fill="#fff" stroke="#8000ff" stroke-width="0.95"/>
<circle cx="274.38" cy="260.20" r="1.7" fill="#fff" stroke="#8000ff" stroke-width="0.95"/>
<circle cx="281.20" cy="259.80" r="1.7" fill="#fff" stroke="#8000ff" stroke-width="0.95"/>
<circle cx="288.02" cy="257.70" r="1.7" fill="#fff" stroke="#8000ff" stroke-width="0.95"/>
<circle cx="294.84" cy="256.50" r="1.7" fill="#fff" stroke="#8000ff" stroke-width="0.95"/>
<circle cx="301.67" cy="254.60" r="1.7" fill="#fff" stroke="#8000ff" stroke-width="0.95"/>
<circle cx="308.49" cy="252.60" r="1.7" fill="#fff" stroke="#8000ff" stroke-width="0.95"/>
<circle cx="315.31" cy="251.10" r="1.7" fill="#fff" stroke="#8000ff" stroke-width="0.95"/>
<circle cx="322.13" cy="250.10" r="1.7" fill="#fff" stroke="#8000ff" stroke-width="0.95"/>
<circle cx="328.96" cy="250.10" r="1.7" fill="#fff" stroke="#8000ff" stroke-width="0.95"/>
<circle cx="335.78" cy="251.10" r="1.7" fill="#fff" stroke="#8000ff" stroke-width="0.95"/>
<circle cx="342.60" cy="254.30" r="1.7" fill="#fff" stroke="#8000ff" stroke-width="0.95"/>
<circle cx="349.43" cy="256.90" r="1.7" fill="#fff" stroke="#8000ff" stroke-width="0.95"/>
<circle cx="356.25" cy="259.50" r="1.7" fill="#fff" stroke="#8000ff" stroke-width="0.95"/>
<circle cx="363.07" cy="262.40" r="1.7" fill="#fff" stroke="#8000ff" stroke-width="0.95"/>
<circle cx="369.89" cy="263.90" r="1.7" fill="#fff" stroke="#8000ff" stroke-width="0.95"/>
<circle cx="376.72" cy="265.10" r="1.7" fill="#fff" stroke="#8000ff" stroke-width="0.95"/>
<circle cx="383.54" cy="266.20" r="1.7" fill="#fff" stroke="#8000ff" stroke-width="0.95"/>
<circle cx="390.36" cy="264.70" r="1.7" fill="#fff" stroke="#8000ff" stroke-width="0.95"/>
<circle cx="397.19" cy="264.40" r="1.7" fill="#fff" stroke="#8000ff" stroke-width="0.95"/>
<circle cx="404.01" cy="264.20" r="1.7" fill="#fff" stroke="#8000ff" stroke-width="0.95"/>
<circle cx="410.83" cy="263.90" r="1.7" fill="#fff" stroke="#8000ff" stroke-width="0.95"/>
<circle cx="417.65" cy="263.50" r="1.7" fill="#fff" stroke="#8000ff" stroke-width="0.95"/>
<circle cx="424.48" cy="263.20" r="1.7" fill="#fff" stroke="#8000ff" stroke-width="0.95"/>
<circle cx="431.30" cy="262.70" r="1.7" fill="#fff" stroke="#8000ff" stroke-width="0.95"/>
<circle cx="438.12" cy="263.70" r="1.7" fill="#fff" stroke="#8000ff" stroke-width="0.95"/>
<circle cx="444.95" cy="267.00" r="1.7" fill="#fff" stroke="#8000ff" stroke-width="0.95"/>
<circle cx="451.77" cy="267.40" r="1.7" fill="#fff" stroke="#8000ff" stroke-width="0.95"/>
<circle cx="458.59" cy="268.40" r="1.7" fill="#fff" stroke="#8000ff" stroke-width="0.95"/>
<circle cx="465.41" cy="269.10" r="1.7" fill="#fff" stroke="#8000ff" stroke-width="0.95"/>
<circle cx="472.24" cy="269.70" r="1.7" fill="#fff" stroke="#8000ff" stroke-width="0.95"/>
<circle cx="479.06" cy="270.20" r="1.7" fill="#fff" stroke="#8000ff" stroke-width="0.95"/>
<circle cx="485.88" cy="270.20" r="1.7" fill="#fff" stroke="#8000ff" stroke-width="0.95"/>
<circle cx="492.70" cy="270.50" r="1.7" fill="#fff" stroke="#8000ff" stroke-width="0.95"/>
<path d="M32.00,269.00 L32.25,268.95 L32.50,268.90 L32.75,268.85 L33.00,268.79 L33.25,268.74 L33.50,268.68 L33.75,268.62 L34.00,268.55 L34.25,268.49 L34.50,268.42 L34.75,268.35 L35.00,268.28 L35.25,268.21 L35.50,268.14 L35.75,268.07 L36.00,268.00 L36.25,267.93 L36.50,267.85 L36.75,267.77 L37.00,267.69 L37.25,267.61 L37.50,267.52 L37.75,267.44 L38.00,267.35 L38.25,267.26 L38.50,267.17 L38.75,267.07 L39.00,266.98 L39.25,266.89 L39.50,266.79 L39.75,266.70 L40.00,266.60 L40.25,266.50 L40.50,266.40 L40.75,266.30 L41.00,266.20 L41.25,266.09 L41.50,265.99 L41.75,265.88 L42.00,265.76 L42.25,265.65 L42.50,265.53 L42.75,265.42 L43.00,265.30 L43.25,265.18 L43.50,265.06 L43.75,264.93 L44.00,264.80 L44.25,264.66 L44.50,264.52 L44.75,264.38 L45.00,264.23 L45.25,264.08 L45.50,263.92 L45.75,263.76 L46.00,263.60 L46.25,263.43 L46.50,263.24 L46.75,263.04 L47.00,262.84 L47.25,262.62 L47.50,262.40 L47.75,262.18 L48.00,261.94 L48.25,261.71 L48.50,261.47 L48.75,261.24 L49.00,261.00 L49.25,260.76 L49.50,260.52 L49.75,260.27 L50.00,260.01 L50.25,259.75 L50.50,259.48 L50.75,259.19 L51.00,258.90 L51.25,258.60 L51.50,258.28 L51.75,257.95 L52.00,257.60 L52.25,257.22 L52.50,256.80 L52.75,256.34 L53.00,255.84 L53.25,255.32 L53.50,254.77 L53.75,254.20 L54.00,253.61 L54.25,253.01 L54.50,252.41 L54.75,251.80 L55.00,251.20 L55.25,250.59 L55.50,249.97 L55.75,249.33 L56.00,248.67 L56.25,247.99 L56.50,247.30 L56.75,246.58 L57.00,245.84 L57.25,245.09 L57.50,244.31 L57.75,243.50 L58.00,242.68 L58.25,241.83 L58.50,240.91 L58.75,239.93 L59.00,238.90 L59.25,237.83 L59.50,236.74 L59.75,235.63 L60.00,234.53 L60.25,233.45 L60.50,232.41 L60.75,231.40 L61.00,230.43 L61.25,229.48 L61.50,228.55 L61.75,227.61 L62.00,226.67 L62.25,225.71 L62.50,224.73 L62.75,223.71 L63.00,222.65 L63.25,221.55 L63.50,220.43 L63.75,219.28 L64.00,218.13 L64.25,216.96 L64.50,215.80 L64.75,214.64 L65.00,213.50 L65.25,212.38 L65.50,211.27 L65.75,210.17 L66.00,209.07 L66.25,207.96 L66.50,206.83 L66.75,205.68 L67.00,204.50 L67.25,203.28 L67.50,202.04 L67.75,200.76 L68.00,199.45 L68.25,198.10 L68.50,196.71 L68.75,195.29 L69.00,193.81 L69.25,192.26 L69.50,190.65 L69.75,189.01 L70.00,187.34 L70.25,185.66 L70.50,184.00 L70.75,182.32 L71.00,180.60 L71.25,178.87 L71.50,177.14 L71.75,175.44 L72.00,173.78 L72.25,172.19 L72.50,170.66 L72.75,169.16 L73.00,167.70 L73.25,166.27 L73.50,164.84 L73.75,163.42 L74.00,162.00 L74.25,160.56 L74.50,159.12 L74.75,157.68 L75.00,156.26 L75.25,154.87 L75.50,153.52 L75.75,152.22 L76.00,150.94 L76.25,149.69 L76.50,148.47 L76.75,147.29 L77.00,146.16 L77.25,145.09 L77.50,144.05 L77.75,143.03 L78.00,142.05 L78.25,141.09 L78.50,140.18 L78.75,139.31 L79.00,138.50 L79.25,137.72 L79.50,136.95 L79.75,136.20 L80.00,135.48 L80.25,134.79 L80.50,134.14 L80.75,133.54 L81.00,133.00 L81.25,132.49 L81.50,131.98 L81.75,131.48 L82.00,131.01 L82.25,130.56 L82.50,130.16 L82.75,129.80 L83.00,129.50 L83.25,129.26 L83.50,129.04 L83.75,128.83 L84.00,128.63 L84.25,128.45 L84.50,128.29 L84.75,128.16 L85.00,128.07 L85.25,128.01 L85.50,128.00 L85.75,128.03 L86.00,128.09 L86.25,128.18 L86.50,128.30 L86.75,128.43 L87.00,128.59 L87.25,128.75 L87.50,128.93 L87.75,129.12 L88.00,129.36 L88.25,129.64 L88.50,129.97 L88.75,130.32 L89.00,130.70 L89.25,131.10 L89.50,131.51 L89.75,131.92 L90.00,132.34 L90.25,132.81 L90.50,133.31 L90.75,133.85 L91.00,134.43 L91.25,135.04 L91.50,135.67 L91.75,136.32 L92.00,137.00 L92.25,137.72 L92.50,138.50 L92.75,139.34 L93.00,140.22 L93.25,141.15 L93.50,142.11 L93.75,143.09 L94.00,144.09 L94.25,145.10 L94.50,146.13 L94.75,147.20 L95.00,148.32 L95.25,149.47 L95.50,150.65 L95.75,151.84 L96.00,153.04 L96.25,154.24 L96.50,155.46 L96.75,156.69 L97.00,157.95 L97.25,159.21 L97.50,160.48 L97.75,161.74 L98.00,163.00 L98.25,164.24 L98.50,165.47 L98.75,166.70 L99.00,167.94 L99.25,169.19 L99.50,170.48 L99.75,171.80 L100.00,173.14 L100.25,174.52 L100.50,175.92 L100.75,177.36 L101.00,178.81 L101.25,180.30 L101.50,181.85 L101.75,183.46 L102.00,185.10 L102.25,186.72 L102.50,188.29 L102.75,189.79 L103.00,191.24 L103.25,192.66 L103.50,194.06 L103.75,195.46 L104.00,196.86 L104.25,198.29 L104.50,199.75 L104.75,201.24 L105.00,202.72 L105.25,204.15 L105.50,205.50 L105.75,206.78 L106.00,208.03 L106.25,209.24 L106.50,210.39 L106.75,211.48 L107.00,212.50 L107.25,213.47 L107.50,214.40 L107.75,215.31 L108.00,216.19 L108.25,217.05 L108.50,217.88 L108.75,218.70 L109.00,219.50 L109.25,220.29 L109.50,221.08 L109.75,221.86 L110.00,222.63 L110.25,223.38 L110.50,224.11 L110.75,224.81 L111.00,225.49 L111.25,226.13 L111.50,226.75 L111.75,227.36 L112.00,227.96 L112.25,228.56 L112.50,229.13 L112.75,229.69 L113.00,230.24 L113.25,230.76 L113.50,231.26 L113.75,231.74 L114.00,232.20 L114.25,232.64 L114.50,233.08 L114.75,233.51 L115.00,233.94 L115.25,234.35 L115.50,234.76 L115.75,235.14 L116.00,235.52 L116.25,235.87 L116.50,236.20 L116.75,236.51 L117.00,236.80 L117.25,237.07 L117.50,237.34 L117.75,237.59 L118.00,237.85 L118.25,238.09 L118.50,238.33 L118.75,238.56 L119.00,238.79 L119.25,239.01 L119.50,239.22 L119.75,239.43 L120.00,239.63 L120.25,239.82 L120.50,240.00 L120.75,240.18 L121.00,240.37 L121.25,240.56 L121.50,240.75 L121.75,240.94 L122.00,241.12 L122.25,241.30 L122.50,241.47 L122.75,241.63 L123.00,241.78 L123.25,241.91 L123.50,242.03 L123.75,242.12 L124.00,242.20 L124.25,242.26 L124.50,242.33 L124.75,242.39 L125.00,242.46 L125.25,242.52 L125.50,242.57 L125.75,242.63 L126.00,242.68 L126.25,242.72 L126.50,242.76 L126.75,242.79 L127.00,242.81 L127.25,242.82 L127.50,242.83 L127.75,242.82 L128.00,242.80 L128.25,242.77 L128.50,242.75 L128.75,242.72 L129.00,242.68 L129.25,242.65 L129.50,242.61 L129.75,242.57 L130.00,242.53 L130.25,242.49 L130.50,242.45 L130.75,242.41 L131.00,242.37 L131.25,242.33 L131.50,242.28 L131.75,242.24 L132.00,242.20 L132.25,242.16 L132.50,242.11 L132.75,242.07 L133.00,242.02 L133.25,241.98 L133.50,241.93 L133.75,241.88 L134.00,241.83 L134.25,241.79 L134.50,241.74 L134.75,241.70 L135.00,241.65 L135.25,241.61 L135.50,241.57 L135.75,241.53 L136.00,241.50 L136.25,241.47 L136.50,241.44 L136.75,241.42 L137.00,241.40 L137.25,241.38 L137.50,241.37 L137.75,241.36 L138.00,241.35 L138.25,241.35 L138.50,241.35 L138.75,241.35 L139.00,241.36 L139.25,241.36 L139.50,241.37 L139.75,241.39 L140.00,241.40 L140.25,241.42 L140.50,241.45 L140.75,241.50 L141.00,241.55 L141.25,241.61 L141.50,241.68 L141.75,241.76 L142.00,241.84 L142.25,241.92 L142.50,242.02 L142.75,242.11 L143.00,242.21 L143.25,242.31 L143.50,242.40 L143.75,242.50 L144.00,242.60 L144.25,242.70 L144.50,242.81 L144.75,242.93 L145.00,243.05 L145.25,243.18 L145.50,243.32 L145.75,243.46 L146.00,243.61 L146.25,243.77 L146.50,243.93 L146.75,244.09 L147.00,244.26 L147.25,244.43 L147.50,244.60 L147.75,244.78 L148.00,244.98 L148.25,245.18 L148.50,245.39 L148.75,245.61 L149.00,245.84 L149.25,246.06 L149.50,246.29 L149.75,246.52 L150.00,246.74 L150.25,246.96 L150.50,247.17 L150.75,247.36 L151.00,247.55 L151.25,247.74 L151.50,247.93 L151.75,248.13 L152.00,248.33 L152.25,248.55 L152.50,248.79 L152.75,249.05 L153.00,249.36 L153.25,249.70 L153.50,250.08 L153.75,250.48 L154.00,250.89 L154.25,251.31 L154.50,251.73 L154.75,252.12 L155.00,252.50 L155.25,252.86 L155.50,253.22 L155.75,253.58 L156.00,253.93 L156.25,254.29 L156.50,254.63 L156.75,254.97 L157.00,255.30 L157.25,255.61 L157.50,255.92 L157.75,256.23 L158.00,256.53 L158.25,256.84 L158.50,257.14 L158.75,257.43 L159.00,257.72 L159.25,257.99 L159.50,258.26 L159.75,258.52 L160.00,258.76 L160.25,258.99 L160.50,259.20 L160.75,259.40 L161.00,259.60 L161.25,259.80 L161.50,259.99 L161.75,260.18 L162.00,260.37 L162.25,260.55 L162.50,260.72 L162.75,260.88 L163.00,261.04 L163.25,261.19 L163.50,261.33 L163.75,261.46 L164.00,261.57 L164.25,261.68 L164.50,261.78 L164.75,261.88 L165.00,261.97 L165.25,262.07 L165.50,262.16 L165.75,262.25 L166.00,262.34 L166.25,262.42 L166.50,262.51 L166.75,262.58 L167.00,262.66 L167.25,262.73 L167.50,262.79 L167.75,262.85 L168.00,262.91 L168.25,262.96 L168.50,263.00 L168.75,263.04 L169.00,263.08 L169.25,263.12 L169.50,263.16 L169.75,263.20 L170.00,263.24 L170.25,263.27 L170.50,263.31 L170.75,263.35 L171.00,263.38 L171.25,263.41 L171.50,263.45 L171.75,263.47 L172.00,263.50 L172.25,263.53 L172.50,263.55 L172.75,263.57 L173.00,263.58 L173.25,263.60 L173.50,263.61 L173.75,263.62 L174.00,263.63 L174.25,263.64 L174.50,263.65 L174.75,263.66 L175.00,263.67 L175.25,263.68 L175.50,263.69 L175.75,263.69 L176.00,263.70 L176.25,263.70 L176.50,263.71 L176.75,263.71 L177.00,263.71 L177.25,263.71 L177.50,263.71 L177.75,263.70 L178.00,263.70 L178.25,263.69 L178.50,263.68 L178.75,263.67 L179.00,263.66 L179.25,263.65 L179.50,263.63 L179.75,263.62 L180.00,263.60 L180.25,263.58 L180.50,263.56 L180.75,263.54 L181.00,263.51 L181.25,263.49 L181.50,263.47 L181.75,263.44 L182.00,263.42 L182.25,263.40 L182.50,263.37 L182.75,263.34 L183.00,263.31 L183.25,263.28 L183.50,263.25 L183.75,263.21 L184.00,263.18 L184.25,263.14 L184.50,263.10 L184.75,263.07 L185.00,263.03 L185.25,262.99 L185.50,262.94 L185.75,262.90 L186.00,262.86 L186.25,262.82 L186.50,262.77 L186.75,262.73 L187.00,262.69 L187.25,262.64 L187.50,262.60 L187.75,262.56 L188.00,262.51 L188.25,262.46 L188.50,262.42 L188.75,262.37 L189.00,262.32 L189.25,262.27 L189.50,262.22 L189.75,262.17 L190.00,262.11 L190.25,262.06 L190.50,262.01 L190.75,261.96 L191.00,261.91 L191.25,261.85 L191.50,261.80 L191.75,261.75 L192.00,261.70 L192.25,261.65 L192.50,261.60 L192.75,261.55 L193.00,261.50 L193.25,261.45 L193.50,261.40 L193.75,261.36 L194.00,261.31 L194.25,261.26 L194.50,261.22 L194.75,261.17 L195.00,261.13 L195.25,261.08 L195.50,261.04 L195.75,260.99 L196.00,260.95 L196.25,260.90 L196.50,260.86 L196.75,260.81 L197.00,260.77 L197.25,260.72 L197.50,260.68 L197.75,260.63 L198.00,260.58 L198.25,260.54 L198.50,260.49 L198.75,260.44 L199.00,260.40 L199.25,260.35 L199.50,260.30 L199.75,260.25 L200.00,260.20 L200.25,260.15 L200.50,260.10 L200.75,260.04 L201.00,259.99 L201.25,259.94 L201.50,259.88 L201.75,259.82 L202.00,259.77 L202.25,259.71 L202.50,259.65 L202.75,259.60 L203.00,259.54 L203.25,259.48 L203.50,259.43 L203.75,259.37 L204.00,259.32 L204.25,259.26 L204.50,259.21 L204.75,259.15 L205.00,259.10 L205.25,259.05 L205.50,259.00 L205.75,258.95 L206.00,258.90 L206.25,258.86 L206.50,258.81 L206.75,258.77 L207.00,258.72 L207.25,258.68 L207.50,258.63 L207.75,258.59 L208.00,258.55 L208.25,258.51 L208.50,258.46 L208.75,258.42 L209.00,258.38 L209.25,258.34 L209.50,258.29 L209.75,258.25 L210.00,258.21 L210.25,258.17 L210.50,258.12 L210.75,258.08 L211.00,258.03 L211.25,257.99 L211.50,257.94 L211.75,257.89 L212.00,257.84 L212.25,257.79 L212.50,257.74 L212.75,257.69 L213.00,257.64 L213.25,257.59 L213.50,257.53 L213.75,257.48 L214.00,257.43 L214.25,257.37 L214.50,257.32 L214.75,257.26 L215.00,257.21 L215.25,257.16 L215.50,257.10 L215.75,257.05 L216.00,257.00 L216.25,256.95 L216.50,256.90 L216.75,256.85 L217.00,256.80 L217.25,256.75 L217.50,256.70 L217.75,256.65 L218.00,256.61 L218.25,256.56 L218.50,256.52 L218.75,256.47 L219.00,256.42 L219.25,256.38 L219.50,256.34 L219.75,256.29 L220.00,256.25 L220.25,256.21 L220.50,256.16 L220.75,256.12 L221.00,256.08 L221.25,256.04 L221.50,255.99 L221.75,255.95 L222.00,255.91 L222.25,255.87 L222.50,255.83 L222.75,255.79 L223.00,255.75 L223.25,255.71 L223.50,255.67 L223.75,255.63 L224.00,255.59 L224.25,255.54 L224.50,255.50 L224.75,255.46 L225.00,255.42 L225.25,255.38 L225.50,255.34 L225.75,255.29 L226.00,255.26 L226.25,255.22 L226.50,255.18 L226.75,255.15 L227.00,255.11 L227.25,255.08 L227.50,255.05 L227.75,255.02 L228.00,255.00 L228.25,254.98 L228.50,254.95 L228.75,254.93 L229.00,254.91 L229.25,254.89 L229.50,254.87 L229.75,254.85 L230.00,254.83 L230.25,254.81 L230.50,254.80 L230.75,254.78 L231.00,254.77 L231.25,254.75 L231.50,254.74 L231.75,254.73 L232.00,254.72 L232.25,254.71 L232.50,254.71 L232.75,254.70 L233.00,254.70 L233.25,254.70 L233.50,254.70 L233.75,254.70 L234.00,254.71 L234.25,254.71 L234.50,254.72 L234.75,254.73 L235.00,254.73 L235.25,254.74 L235.50,254.75 L235.75,254.77 L236.00,254.78 L236.25,254.79 L236.50,254.81 L236.75,254.82 L237.00,254.84 L237.25,254.85 L237.50,254.87 L237.75,254.88 L238.00,254.90 L238.25,254.92 L238.50,254.94 L238.75,254.96 L239.00,254.98 L239.25,255.01 L239.50,255.04 L239.75,255.07 L240.00,255.10 L240.25,255.13 L240.50,255.16 L240.75,255.20 L241.00,255.23 L241.25,255.27 L241.50,255.31 L241.75,255.35 L242.00,255.39 L242.25,255.43 L242.50,255.47 L242.75,255.51 L243.00,255.55 L243.25,255.59 L243.50,255.64 L243.75,255.69 L244.00,255.74 L244.25,255.79 L244.50,255.84 L244.75,255.90 L245.00,255.95 L245.25,256.01 L245.50,256.07 L245.75,256.12 L246.00,256.18 L246.25,256.24 L246.50,256.30 L246.75,256.37 L247.00,256.43 L247.25,256.49 L247.50,256.55 L247.75,256.61 L248.00,256.68 L248.25,256.74 L248.50,256.80 L248.75,256.86 L249.00,256.93 L249.25,256.99 L249.50,257.05 L249.75,257.12 L250.00,257.19 L250.25,257.25 L250.50,257.32 L250.75,257.39 L251.00,257.46 L251.25,257.53 L251.50,257.59 L251.75,257.66 L252.00,257.73 L252.25,257.80 L252.50,257.87 L252.75,257.94 L253.00,258.01 L253.25,258.08 L253.50,258.15 L253.75,258.22 L254.00,258.29 L254.25,258.36 L254.50,258.43 L254.75,258.50 L255.00,258.57 L255.25,258.64 L255.50,258.71 L255.75,258.78 L256.00,258.85 L256.25,258.92 L256.50,258.99 L256.75,259.06 L257.00,259.13 L257.25,259.20 L257.50,259.27 L257.75,259.34 L258.00,259.41 L258.25,259.48 L258.50,259.55 L258.75,259.62 L259.00,259.69 L259.25,259.75 L259.50,259.82 L259.75,259.89 L260.00,259.95 L260.25,260.01 L260.50,260.07 L260.75,260.13 L261.00,260.19 L261.25,260.25 L261.50,260.31 L261.75,260.36 L262.00,260.42 L262.25,260.47 L262.50,260.52 L262.75,260.58 L263.00,260.63 L263.25,260.68 L263.50,260.74 L263.75,260.79 L264.00,260.84 L264.25,260.90 L264.50,260.95 L264.75,261.01 L265.00,261.06 L265.25,261.12 L265.50,261.18 L265.75,261.24 L266.00,261.30 L266.25,261.36 L266.50,261.43 L266.75,261.49 L267.00,261.56 L267.25,261.63 L267.50,261.70 L267.75,261.77 L268.00,261.85 L268.25,261.92 L268.50,261.99 L268.75,262.06 L269.00,262.14 L269.25,262.21 L269.50,262.28 L269.75,262.35 L270.00,262.42 L270.25,262.49 L270.50,262.56 L270.75,262.63 L271.00,262.69 L271.25,262.76 L271.50,262.82 L271.75,262.88 L272.00,262.94 L272.25,262.99 L272.50,263.05 L272.75,263.11 L273.00,263.17 L273.25,263.22 L273.50,263.28 L273.75,263.34 L274.00,263.39 L274.25,263.45 L274.50,263.50 L274.75,263.55 L275.00,263.60 L275.25,263.65 L275.50,263.70 L275.75,263.74 L276.00,263.79 L276.25,263.83 L276.50,263.87 L276.75,263.91 L277.00,263.94 L277.25,263.98 L277.50,264.01 L277.75,264.04 L278.00,264.06 L278.25,264.09 L278.50,264.12 L278.75,264.14 L279.00,264.17 L279.25,264.19 L279.50,264.21 L279.75,264.23 L280.00,264.25 L280.25,264.27 L280.50,264.28 L280.75,264.29 L281.00,264.30 L281.25,264.30 L281.50,264.31 L281.75,264.31 L282.00,264.30 L282.25,264.29 L282.50,264.28 L282.75,264.27 L283.00,264.25 L283.25,264.24 L283.50,264.22 L283.75,264.20 L284.00,264.18 L284.25,264.15 L284.50,264.13 L284.75,264.11 L285.00,264.08 L285.25,264.05 L285.50,264.02 L285.75,264.00 L286.00,263.97 L286.25,263.94 L286.50,263.91 L286.75,263.88 L287.00,263.85 L287.25,263.82 L287.50,263.79 L287.75,263.76 L288.00,263.73 L288.25,263.70 L288.50,263.67 L288.75,263.63 L289.00,263.60 L289.25,263.56 L289.50,263.53 L289.75,263.49 L290.00,263.46 L290.25,263.42 L290.50,263.38 L290.75,263.34 L291.00,263.30 L291.25,263.26 L291.50,263.22 L291.75,263.18 L292.00,263.14 L292.25,263.09 L292.50,263.05 L292.75,263.01 L293.00,262.96 L293.25,262.92 L293.50,262.87 L293.75,262.83 L294.00,262.78 L294.25,262.73 L294.50,262.68 L294.75,262.63 L295.00,262.58 L295.25,262.52 L295.50,262.47 L295.75,262.41 L296.00,262.36 L296.25,262.30 L296.50,262.24 L296.75,262.18 L297.00,262.13 L297.25,262.07 L297.50,262.01 L297.75,261.95 L298.00,261.89 L298.25,261.82 L298.50,261.76 L298.75,261.70 L299.00,261.64 L299.25,261.58 L299.50,261.51 L299.75,261.45 L300.00,261.38 L300.25,261.32 L300.50,261.25 L300.75,261.18 L301.00,261.12 L301.25,261.05 L301.50,260.98 L301.75,260.91 L302.00,260.84 L302.25,260.77 L302.50,260.70 L302.75,260.63 L303.00,260.56 L303.25,260.49 L303.50,260.42 L303.75,260.35 L304.00,260.28 L304.25,260.21 L304.50,260.14 L304.75,260.08 L305.00,260.01 L305.25,259.94 L305.50,259.88 L305.75,259.82 L306.00,259.76 L306.25,259.69 L306.50,259.63 L306.75,259.57 L307.00,259.51 L307.25,259.45 L307.50,259.39 L307.75,259.33 L308.00,259.27 L308.25,259.21 L308.50,259.15 L308.75,259.09 L309.00,259.03 L309.25,258.97 L309.50,258.90 L309.75,258.84 L310.00,258.77 L310.25,258.70 L310.50,258.63 L310.75,258.56 L311.00,258.49 L311.25,258.42 L311.50,258.34 L311.75,258.27 L312.00,258.19 L312.25,258.11 L312.50,258.03 L312.75,257.95 L313.00,257.86 L313.25,257.78 L313.50,257.70 L313.75,257.61 L314.00,257.53 L314.25,257.44 L314.50,257.36 L314.75,257.27 L315.00,257.18 L315.25,257.10 L315.50,257.02 L315.75,256.93 L316.00,256.85 L316.25,256.76 L316.50,256.68 L316.75,256.60 L317.00,256.52 L317.25,256.44 L317.50,256.35 L317.75,256.27 L318.00,256.19 L318.25,256.10 L318.50,256.02 L318.75,255.94 L319.00,255.85 L319.25,255.77 L319.50,255.69 L319.75,255.61 L320.00,255.52 L320.25,255.44 L320.50,255.36 L320.75,255.28 L321.00,255.20 L321.25,255.13 L321.50,255.05 L321.75,254.97 L322.00,254.90 L322.25,254.82 L322.50,254.75 L322.75,254.68 L323.00,254.61 L323.25,254.54 L323.50,254.47 L323.75,254.40 L324.00,254.33 L324.25,254.26 L324.50,254.19 L324.75,254.13 L325.00,254.06 L325.25,253.99 L325.50,253.93 L325.75,253.86 L326.00,253.80 L326.25,253.74 L326.50,253.68 L326.75,253.62 L327.00,253.56 L327.25,253.50 L327.50,253.44 L327.75,253.38 L328.00,253.33 L328.25,253.27 L328.50,253.22 L328.75,253.16 L329.00,253.11 L329.25,253.05 L329.50,253.00 L329.75,252.94 L330.00,252.89 L330.25,252.83 L330.50,252.78 L330.75,252.72 L331.00,252.67 L331.25,252.62 L331.50,252.57 L331.75,252.52 L332.00,252.48 L332.25,252.43 L332.50,252.39 L332.75,252.34 L333.00,252.30 L333.25,252.27 L333.50,252.23 L333.75,252.20 L334.00,252.17 L334.25,252.14 L334.50,252.11 L334.75,252.09 L335.00,252.06 L335.25,252.04 L335.50,252.01 L335.75,251.99 L336.00,251.96 L336.25,251.94 L336.50,251.92 L336.75,251.90 L337.00,251.87 L337.25,251.85 L337.50,251.83 L337.75,251.81 L338.00,251.80 L338.25,251.78 L338.50,251.76 L338.75,251.74 L339.00,251.73 L339.25,251.71 L339.50,251.69 L339.75,251.68 L340.00,251.66 L340.25,251.65 L340.50,251.64 L340.75,251.62 L341.00,251.61 L341.25,251.60 L341.50,251.59 L341.75,251.57 L342.00,251.56 L342.25,251.56 L342.50,251.55 L342.75,251.54 L343.00,251.54 L343.25,251.53 L343.50,251.53 L343.75,251.53 L344.00,251.53 L344.25,251.54 L344.50,251.55 L344.75,251.56 L345.00,251.58 L345.25,251.61 L345.50,251.64 L345.75,251.67 L346.00,251.71 L346.25,251.75 L346.50,251.79 L346.75,251.83 L347.00,251.87 L347.25,251.92 L347.50,251.97 L347.75,252.01 L348.00,252.06 L348.25,252.11 L348.50,252.16 L348.75,252.22 L349.00,252.28 L349.25,252.34 L349.50,252.40 L349.75,252.47 L350.00,252.54 L350.25,252.61 L350.50,252.68 L350.75,252.75 L351.00,252.82 L351.25,252.89 L351.50,252.96 L351.75,253.03 L352.00,253.10 L352.25,253.17 L352.50,253.23 L352.75,253.30 L353.00,253.36 L353.25,253.43 L353.50,253.50 L353.75,253.56 L354.00,253.63 L354.25,253.70 L354.50,253.77 L354.75,253.85 L355.00,253.92 L355.25,254.00 L355.50,254.09 L355.75,254.18 L356.00,254.27 L356.25,254.37 L356.50,254.47 L356.75,254.59 L357.00,254.71 L357.25,254.83 L357.50,254.96 L357.75,255.09 L358.00,255.23 L358.25,255.36 L358.50,255.50 L358.75,255.64 L359.00,255.78 L359.25,255.92 L359.50,256.05 L359.75,256.19 L360.00,256.31 L360.25,256.44 L360.50,256.56 L360.75,256.68 L361.00,256.79 L361.25,256.91 L361.50,257.03 L361.75,257.14 L362.00,257.25 L362.25,257.37 L362.50,257.48 L362.75,257.59 L363.00,257.70 L363.25,257.81 L363.50,257.92 L363.75,258.03 L364.00,258.14 L364.25,258.25 L364.50,258.35 L364.75,258.46 L365.00,258.56 L365.25,258.66 L365.50,258.76 L365.75,258.86 L366.00,258.96 L366.25,259.05 L366.50,259.15 L366.75,259.24 L367.00,259.34 L367.25,259.43 L367.50,259.53 L367.75,259.62 L368.00,259.71 L368.25,259.80 L368.50,259.89 L368.75,259.98 L369.00,260.07 L369.25,260.16 L369.50,260.26 L369.75,260.35 L370.00,260.44 L370.25,260.53 L370.50,260.62 L370.75,260.71 L371.00,260.80 L371.25,260.90 L371.50,260.99 L371.75,261.08 L372.00,261.17 L372.25,261.27 L372.50,261.36 L372.75,261.45 L373.00,261.54 L373.25,261.64 L373.50,261.73 L373.75,261.82 L374.00,261.91 L374.25,262.00 L374.50,262.09 L374.75,262.18 L375.00,262.27 L375.25,262.36 L375.50,262.45 L375.75,262.54 L376.00,262.62 L376.25,262.71 L376.50,262.80 L376.75,262.88 L377.00,262.97 L377.25,263.05 L377.50,263.14 L377.75,263.22 L378.00,263.31 L378.25,263.40 L378.50,263.48 L378.75,263.57 L379.00,263.65 L379.25,263.74 L379.50,263.82 L379.75,263.90 L380.00,263.98 L380.25,264.05 L380.50,264.13 L380.75,264.20 L381.00,264.27 L381.25,264.34 L381.50,264.41 L381.75,264.47 L382.00,264.53 L382.25,264.59 L382.50,264.64 L382.75,264.70 L383.00,264.76 L383.25,264.81 L383.50,264.86 L383.75,264.92 L384.00,264.97 L384.25,265.02 L384.50,265.07 L384.75,265.12 L385.00,265.16 L385.25,265.21 L385.50,265.25 L385.75,265.30 L386.00,265.34 L386.25,265.38 L386.50,265.42 L386.75,265.45 L387.00,265.49 L387.25,265.52 L387.50,265.56 L387.75,265.59 L388.00,265.62 L388.25,265.64 L388.50,265.67 L388.75,265.70 L389.00,265.73 L389.25,265.76 L389.50,265.79 L389.75,265.82 L390.00,265.84 L390.25,265.87 L390.50,265.90 L390.75,265.92 L391.00,265.95 L391.25,265.97 L391.50,266.00 L391.75,266.02 L392.00,266.04 L392.25,266.07 L392.50,266.09 L392.75,266.11 L393.00,266.13 L393.25,266.14 L393.50,266.16 L393.75,266.18 L394.00,266.19 L394.25,266.20 L394.50,266.22 L394.75,266.23 L395.00,266.25 L395.25,266.26 L395.50,266.28 L395.75,266.29 L396.00,266.31 L396.25,266.32 L396.50,266.33 L396.75,266.35 L397.00,266.36 L397.25,266.37 L397.50,266.38 L397.75,266.40 L398.00,266.41 L398.25,266.42 L398.50,266.43 L398.75,266.44 L399.00,266.44 L399.25,266.45 L399.50,266.46 L399.75,266.46 L400.00,266.47 L400.25,266.47 L400.50,266.47 L400.75,266.47 L401.00,266.47 L401.25,266.47 L401.50,266.47 L401.75,266.47 L402.00,266.47 L402.25,266.47 L402.50,266.47 L402.75,266.47 L403.00,266.47 L403.25,266.47 L403.50,266.47 L403.75,266.47 L404.00,266.47 L404.25,266.47 L404.50,266.46 L404.75,266.46 L405.00,266.46 L405.25,266.46 L405.50,266.46 L405.75,266.45 L406.00,266.45 L406.25,266.45 L406.50,266.44 L406.75,266.44 L407.00,266.44 L407.25,266.43 L407.50,266.43 L407.75,266.42 L408.00,266.42 L408.25,266.41 L408.50,266.41 L408.75,266.40 L409.00,266.40 L409.25,266.39 L409.50,266.39 L409.75,266.38 L410.00,266.37 L410.25,266.37 L410.50,266.36 L410.75,266.35 L411.00,266.35 L411.25,266.34 L411.50,266.33 L411.75,266.33 L412.00,266.32 L412.25,266.31 L412.50,266.30 L412.75,266.29 L413.00,266.28 L413.25,266.26 L413.50,266.25 L413.75,266.24 L414.00,266.22 L414.25,266.21 L414.50,266.19 L414.75,266.17 L415.00,266.16 L415.25,266.14 L415.50,266.12 L415.75,266.10 L416.00,266.09 L416.25,266.07 L416.50,266.05 L416.75,266.03 L417.00,266.01 L417.25,265.99 L417.50,265.97 L417.75,265.95 L418.00,265.92 L418.25,265.90 L418.50,265.87 L418.75,265.85 L419.00,265.82 L419.25,265.79 L419.50,265.76 L419.75,265.73 L420.00,265.71 L420.25,265.68 L420.50,265.65 L420.75,265.62 L421.00,265.60 L421.25,265.57 L421.50,265.55 L421.75,265.52 L422.00,265.50 L422.25,265.48 L422.50,265.45 L422.75,265.43 L423.00,265.41 L423.25,265.38 L423.50,265.36 L423.75,265.33 L424.00,265.31 L424.25,265.28 L424.50,265.26 L424.75,265.23 L425.00,265.21 L425.25,265.18 L425.50,265.16 L425.75,265.14 L426.00,265.11 L426.25,265.09 L426.50,265.07 L426.75,265.05 L427.00,265.03 L427.25,265.01 L427.50,264.99 L427.75,264.98 L428.00,264.96 L428.25,264.95 L428.50,264.94 L428.75,264.93 L429.00,264.92 L429.25,264.91 L429.50,264.90 L429.75,264.90 L430.00,264.90 L430.25,264.90 L430.50,264.90 L430.75,264.90 L431.00,264.90 L431.25,264.90 L431.50,264.90 L431.75,264.90 L432.00,264.90 L432.25,264.90 L432.50,264.90 L432.75,264.90 L433.00,264.91 L433.25,264.91 L433.50,264.91 L433.75,264.91 L434.00,264.92 L434.25,264.92 L434.50,264.92 L434.75,264.93 L435.00,264.93 L435.25,264.93 L435.50,264.94 L435.75,264.94 L436.00,264.94 L436.25,264.95 L436.50,264.95 L436.75,264.96 L437.00,264.96 L437.25,264.97 L437.50,264.97 L437.75,264.97 L438.00,264.98 L438.25,264.98 L438.50,264.99 L438.75,264.99 L439.00,265.00 L439.25,265.00 L439.50,265.00 L439.75,265.01 L440.00,265.01 L440.25,265.02 L440.50,265.02 L440.75,265.03 L441.00,265.03 L441.25,265.04 L441.50,265.04 L441.75,265.04 L442.00,265.05 L442.25,265.05 L442.50,265.06 L442.75,265.06 L443.00,265.07 L443.25,265.07 L443.50,265.08 L443.75,265.08 L444.00,265.08 L444.25,265.09 L444.50,265.09 L444.75,265.10 L445.00,265.10 L445.25,265.11 L445.50,265.11 L445.75,265.12 L446.00,265.12 L446.25,265.13 L446.50,265.14 L446.75,265.14 L447.00,265.15 L447.25,265.15 L447.50,265.16 L447.75,265.16 L448.00,265.17 L448.25,265.18 L448.50,265.18 L448.75,265.19 L449.00,265.20 L449.25,265.20 L449.50,265.21 L449.75,265.22 L450.00,265.23 L450.25,265.23 L450.50,265.24 L450.75,265.25 L451.00,265.26 L451.25,265.27 L451.50,265.28 L451.75,265.29 L452.00,265.30 L452.25,265.31 L452.50,265.33 L452.75,265.34 L453.00,265.35 L453.25,265.36 L453.50,265.38 L453.75,265.39 L454.00,265.40 L454.25,265.42 L454.50,265.43 L454.75,265.44 L455.00,265.46 L455.25,265.47 L455.50,265.49 L455.75,265.50 L456.00,265.52 L456.25,265.53 L456.50,265.55 L456.75,265.56 L457.00,265.58 L457.25,265.59 L457.50,265.61 L457.75,265.62 L458.00,265.64 L458.25,265.65 L458.50,265.67 L458.75,265.68 L459.00,265.70 L459.25,265.71 L459.50,265.73 L459.75,265.74 L460.00,265.76 L460.25,265.77 L460.50,265.79 L460.75,265.80 L461.00,265.82 L461.25,265.84 L461.50,265.85 L461.75,265.87 L462.00,265.88 L462.25,265.90 L462.50,265.92 L462.75,265.93 L463.00,265.95 L463.25,265.97 L463.50,265.98 L463.75,266.00 L464.00,266.02 L464.25,266.04 L464.50,266.05 L464.75,266.07 L465.00,266.09 L465.25,266.10 L465.50,266.12 L465.75,266.14 L466.00,266.15 L466.25,266.17 L466.50,266.19 L466.75,266.20 L467.00,266.22 L467.25,266.23 L467.50,266.25 L467.75,266.27 L468.00,266.28 L468.25,266.30 L468.50,266.31 L468.75,266.33 L469.00,266.34 L469.25,266.36 L469.50,266.37 L469.75,266.39 L470.00,266.40 L470.25,266.42 L470.50,266.43 L470.75,266.45 L471.00,266.46 L471.25,266.48 L471.50,266.49 L471.75,266.51 L472.00,266.52 L472.25,266.54 L472.50,266.55 L472.75,266.57 L473.00,266.58 L473.25,266.60 L473.50,266.61 L473.75,266.63 L474.00,266.64 L474.25,266.66 L474.50,266.67 L474.75,266.69 L475.00,266.70 L475.25,266.72 L475.50,266.73 L475.75,266.75 L476.00,266.76 L476.25,266.77 L476.50,266.79 L476.75,266.80 L477.00,266.82 L477.25,266.83 L477.50,266.85 L477.75,266.86 L478.00,266.88 L478.25,266.89 L478.50,266.90 L478.75,266.92 L479.00,266.93 L479.25,266.95 L479.50,266.96 L479.75,266.98 L480.00,266.99 L480.25,267.00 L480.50,267.02 L480.75,267.03 L481.00,267.05 L481.25,267.06 L481.50,267.08 L481.75,267.09 L482.00,267.11 L482.25,267.12 L482.50,267.14 L482.75,267.15 L483.00,267.17 L483.25,267.18 L483.50,267.20 L483.75,267.22 L484.00,267.23 L484.25,267.25 L484.50,267.27 L484.75,267.28 L485.00,267.30 L485.25,267.32 L485.50,267.34 L485.75,267.36 L486.00,267.37 L486.25,267.39 L486.50,267.42 L486.75,267.44 L487.00,267.46 L487.25,267.48 L487.50,267.50 L487.75,267.52 L488.00,267.55 L488.25,267.57 L488.50,267.59 L488.75,267.62 L489.00,267.64 L489.25,267.67 L489.50,267.69 L489.75,267.72 L490.00,267.74 L490.25,267.77 L490.50,267.79 L490.75,267.82 L491.00,267.84 L491.25,267.87 L491.50,267.90 L491.75,267.93 L492.00,267.95 L492.25,267.98 L492.50,268.01 L492.75,268.04 L493.00,268.06 L493.25,268.09 L493.50,268.12 L493.75,268.15 L494.00,268.18 L494.25,268.20 L494.50,268.23 L494.75,268.26 L495.00,268.29 L495.10,268.30" fill="none" stroke="#008000" stroke-width="2.4" stroke-linejoin="round" stroke-linecap="round"/>
<path d="M32.60,269.00 L32.85,268.93 L33.10,268.85 L33.35,268.78 L33.60,268.70 L33.85,268.63 L34.10,268.55 L34.35,268.47 L34.60,268.39 L34.85,268.31 L35.10,268.23 L35.35,268.15 L35.60,268.07 L35.85,267.99 L36.10,267.91 L36.35,267.83 L36.60,267.74 L36.85,267.66 L37.10,267.58 L37.35,267.49 L37.60,267.40 L37.85,267.32 L38.10,267.23 L38.35,267.14 L38.60,267.05 L38.85,266.95 L39.10,266.86 L39.35,266.76 L39.60,266.66 L39.85,266.56 L40.10,266.45 L40.35,266.33 L40.60,266.21 L40.85,266.09 L41.10,265.96 L41.35,265.82 L41.60,265.69 L41.85,265.55 L42.10,265.40 L42.35,265.25 L42.60,265.10 L42.85,264.95 L43.10,264.79 L43.35,264.63 L43.60,264.47 L43.85,264.29 L44.10,264.10 L44.35,263.90 L44.60,263.69 L44.85,263.48 L45.10,263.25 L45.35,263.02 L45.60,262.78 L45.85,262.54 L46.10,262.30 L46.35,262.05 L46.60,261.80 L46.85,261.55 L47.10,261.29 L47.35,261.01 L47.60,260.73 L47.85,260.45 L48.10,260.15 L48.35,259.85 L48.60,259.54 L48.85,259.22 L49.10,258.90 L49.35,258.57 L49.60,258.24 L49.85,257.90 L50.10,257.56 L50.35,257.21 L50.60,256.85 L50.85,256.48 L51.10,256.11 L51.35,255.72 L51.60,255.32 L51.85,254.92 L52.10,254.51 L52.35,254.10 L52.60,253.68 L52.85,253.26 L53.10,252.83 L53.35,252.39 L53.60,251.95 L53.85,251.49 L54.10,251.03 L54.35,250.57 L54.60,250.10 L54.85,249.62 L55.10,249.15 L55.35,248.67 L55.60,248.19 L55.85,247.72 L56.10,247.25 L56.35,246.78 L56.60,246.32 L56.85,245.86 L57.10,245.41 L57.35,244.96 L57.60,244.51 L57.85,244.07 L58.10,243.62 L58.35,243.17 L58.60,242.73 L58.85,242.27 L59.10,241.81 L59.35,241.35 L59.60,240.88 L59.85,240.39 L60.10,239.90 L60.35,239.40 L60.60,238.87 L60.85,238.32 L61.10,237.75 L61.35,237.17 L61.60,236.58 L61.85,235.98 L62.10,235.38 L62.35,234.78 L62.60,234.19 L62.85,233.61 L63.10,233.05 L63.35,232.51 L63.60,232.00 L63.85,231.49 L64.10,230.98 L64.35,230.48 L64.60,229.98 L64.85,229.49 L65.10,229.01 L65.35,228.53 L65.60,228.07 L65.85,227.61 L66.10,227.16 L66.35,226.73 L66.60,226.31 L66.85,225.90 L67.10,225.50 L67.35,225.13 L67.60,224.75 L67.85,224.37 L68.10,223.99 L68.35,223.62 L68.60,223.25 L68.85,222.88 L69.10,222.53 L69.35,222.19 L69.60,221.87 L69.85,221.57 L70.10,221.28 L70.35,221.02 L70.60,220.78 L70.85,220.58 L71.10,220.40 L71.35,220.24 L71.60,220.08 L71.85,219.93 L72.10,219.78 L72.35,219.63 L72.60,219.48 L72.85,219.35 L73.10,219.21 L73.35,219.09 L73.60,218.97 L73.85,218.86 L74.10,218.75 L74.35,218.66 L74.60,218.57 L74.85,218.50 L75.10,218.43 L75.35,218.38 L75.60,218.33 L75.85,218.30 L76.10,218.28 L76.35,218.27 L76.60,218.26 L76.85,218.25 L77.10,218.25 L77.35,218.25 L77.60,218.26 L77.85,218.27 L78.10,218.29 L78.35,218.31 L78.60,218.34 L78.85,218.37 L79.10,218.41 L79.35,218.46 L79.60,218.51 L79.85,218.56 L80.10,218.63 L80.35,218.69 L80.60,218.77 L80.85,218.85 L81.10,218.95 L81.35,219.05 L81.60,219.17 L81.85,219.31 L82.10,219.45 L82.35,219.60 L82.60,219.75 L82.85,219.92 L83.10,220.09 L83.35,220.27 L83.60,220.45 L83.85,220.63 L84.10,220.82 L84.35,221.01 L84.60,221.20 L84.85,221.39 L85.10,221.58 L85.35,221.77 L85.60,221.97 L85.85,222.18 L86.10,222.39 L86.35,222.61 L86.60,222.83 L86.85,223.06 L87.10,223.29 L87.35,223.51 L87.60,223.74 L87.85,223.97 L88.10,224.20 L88.35,224.43 L88.60,224.65 L88.85,224.87 L89.10,225.09 L89.35,225.30 L89.60,225.51 L89.85,225.72 L90.10,225.92 L90.35,226.13 L90.60,226.34 L90.85,226.54 L91.10,226.75 L91.35,226.96 L91.60,227.16 L91.85,227.38 L92.10,227.59 L92.35,227.81 L92.60,228.03 L92.85,228.25 L93.10,228.48 L93.35,228.72 L93.60,228.95 L93.85,229.19 L94.10,229.42 L94.35,229.67 L94.60,229.91 L94.85,230.16 L95.10,230.41 L95.35,230.66 L95.60,230.92 L95.85,231.18 L96.10,231.44 L96.35,231.71 L96.60,231.98 L96.85,232.25 L97.10,232.53 L97.35,232.81 L97.60,233.10 L97.85,233.39 L98.10,233.68 L98.35,233.98 L98.60,234.29 L98.85,234.61 L99.10,234.93 L99.35,235.26 L99.60,235.60 L99.85,235.94 L100.10,236.29 L100.35,236.64 L100.60,237.00 L100.85,237.36 L101.10,237.72 L101.35,238.08 L101.60,238.44 L101.85,238.81 L102.10,239.17 L102.35,239.53 L102.60,239.89 L102.85,240.25 L103.10,240.60 L103.35,240.95 L103.60,241.30 L103.85,241.64 L104.10,241.99 L104.35,242.34 L104.60,242.70 L104.85,243.05 L105.10,243.41 L105.35,243.76 L105.60,244.12 L105.85,244.48 L106.10,244.83 L106.35,245.19 L106.60,245.54 L106.85,245.89 L107.10,246.23 L107.35,246.58 L107.60,246.91 L107.85,247.25 L108.10,247.58 L108.35,247.90 L108.60,248.22 L108.85,248.53 L109.10,248.83 L109.35,249.13 L109.60,249.41 L109.85,249.70 L110.10,249.99 L110.35,250.27 L110.60,250.55 L110.85,250.83 L111.10,251.10 L111.35,251.38 L111.60,251.65 L111.85,251.91 L112.10,252.17 L112.35,252.43 L112.60,252.68 L112.85,252.92 L113.10,253.16 L113.35,253.39 L113.60,253.62 L113.85,253.84 L114.10,254.05 L114.35,254.25 L114.60,254.44 L114.85,254.63 L115.10,254.80 L115.35,254.97 L115.60,255.13 L115.85,255.29 L116.10,255.45 L116.35,255.60 L116.60,255.76 L116.85,255.92 L117.10,256.07 L117.35,256.23 L117.60,256.38 L117.85,256.52 L118.10,256.66 L118.35,256.80 L118.60,256.93 L118.85,257.06 L119.10,257.18 L119.35,257.29 L119.60,257.40 L119.85,257.50 L120.10,257.59 L120.35,257.67 L120.60,257.74 L120.85,257.80 L121.10,257.85 L121.35,257.89 L121.60,257.93 L121.85,257.96 L122.10,257.99 L122.35,258.02 L122.60,258.05 L122.85,258.08 L123.10,258.11 L123.35,258.14 L123.60,258.16 L123.85,258.19 L124.10,258.21 L124.35,258.23 L124.60,258.24 L124.85,258.26 L125.10,258.27 L125.35,258.28 L125.60,258.28 L125.85,258.28 L126.10,258.28 L126.35,258.27 L126.60,258.26 L126.85,258.25 L127.10,258.23 L127.35,258.21 L127.60,258.18 L127.85,258.15 L128.10,258.12 L128.35,258.08 L128.60,258.05 L128.85,258.01 L129.10,257.97 L129.35,257.94 L129.60,257.90 L129.85,257.85 L130.10,257.81 L130.35,257.77 L130.60,257.72 L130.85,257.68 L131.10,257.63 L131.35,257.59 L131.60,257.54 L131.85,257.49 L132.10,257.45 L132.35,257.40 L132.60,257.35 L132.85,257.30 L133.10,257.26 L133.35,257.21 L133.60,257.16 L133.85,257.11 L134.10,257.05 L134.35,257.00 L134.60,256.94 L134.85,256.88 L135.10,256.81 L135.35,256.75 L135.60,256.68 L135.85,256.62 L136.10,256.55 L136.35,256.49 L136.60,256.43 L136.85,256.36 L137.10,256.30 L137.35,256.25 L137.60,256.19 L137.85,256.14 L138.10,256.09 L138.35,256.04 L138.60,256.00 L138.85,255.96 L139.10,255.92 L139.35,255.89 L139.60,255.87 L139.85,255.85 L140.10,255.84 L140.35,255.83 L140.60,255.82 L140.85,255.82 L141.10,255.82 L141.35,255.83 L141.60,255.84 L141.85,255.85 L142.10,255.87 L142.35,255.89 L142.60,255.91 L142.85,255.94 L143.10,255.96 L143.35,256.00 L143.60,256.03 L143.85,256.06 L144.10,256.10 L144.35,256.14 L144.60,256.18 L144.85,256.22 L145.10,256.26 L145.35,256.31 L145.60,256.36 L145.85,256.41 L146.10,256.46 L146.35,256.52 L146.60,256.58 L146.85,256.64 L147.10,256.71 L147.35,256.78 L147.60,256.85 L147.85,256.92 L148.10,257.00 L148.35,257.07 L148.60,257.15 L148.85,257.23 L149.10,257.31 L149.35,257.39 L149.60,257.46 L149.85,257.54 L150.10,257.62 L150.35,257.70 L150.60,257.78 L150.85,257.86 L151.10,257.94 L151.35,258.02 L151.60,258.09 L151.85,258.17 L152.10,258.25 L152.35,258.33 L152.60,258.41 L152.85,258.50 L153.10,258.58 L153.35,258.67 L153.60,258.75 L153.85,258.84 L154.10,258.92 L154.35,259.01 L154.60,259.09 L154.85,259.17 L155.10,259.26 L155.35,259.34 L155.60,259.42 L155.85,259.50 L156.10,259.58 L156.35,259.65 L156.60,259.73 L156.85,259.80 L157.10,259.87 L157.35,259.94 L157.60,260.01 L157.85,260.08 L158.10,260.15 L158.35,260.21 L158.60,260.28 L158.85,260.34 L159.10,260.41 L159.35,260.47 L159.60,260.53 L159.85,260.59 L160.10,260.64 L160.35,260.70 L160.60,260.75 L160.85,260.80 L161.10,260.84 L161.35,260.88 L161.60,260.92 L161.85,260.95 L162.10,260.98 L162.35,261.00 L162.60,261.02 L162.85,261.03 L163.10,261.03 L163.35,261.02 L163.60,261.00 L163.85,260.98 L164.10,260.95 L164.35,260.91 L164.60,260.87 L164.85,260.82 L165.10,260.77 L165.35,260.71 L165.60,260.65 L165.85,260.58 L166.10,260.52 L166.35,260.44 L166.60,260.37 L166.85,260.30 L167.10,260.22 L167.35,260.15 L167.60,260.07 L167.85,259.98 L168.10,259.88 L168.35,259.77 L168.60,259.65 L168.85,259.52 L169.10,259.38 L169.35,259.23 L169.60,259.07 L169.85,258.91 L170.10,258.75 L170.35,258.58 L170.60,258.40 L170.85,258.23 L171.10,258.05 L171.35,257.87 L171.60,257.69 L171.85,257.52 L172.10,257.34 L172.35,257.17 L172.60,256.99 L172.85,256.81 L173.10,256.62 L173.35,256.43 L173.60,256.24 L173.85,256.04 L174.10,255.84 L174.35,255.63 L174.60,255.42 L174.85,255.21 L175.10,254.99 L175.35,254.78 L175.60,254.56 L175.85,254.33 L176.10,254.11 L176.35,253.88 L176.60,253.65 L176.85,253.41 L177.10,253.17 L177.35,252.92 L177.60,252.67 L177.85,252.41 L178.10,252.15 L178.35,251.88 L178.60,251.61 L178.85,251.34 L179.10,251.06 L179.35,250.77 L179.60,250.48 L179.85,250.19 L180.10,249.88 L180.35,249.56 L180.60,249.24 L180.85,248.91 L181.10,248.58 L181.35,248.25 L181.60,247.91 L181.85,247.57 L182.10,247.22 L182.35,246.88 L182.60,246.54 L182.85,246.20 L183.10,245.87 L183.35,245.54 L183.60,245.22 L183.85,244.90 L184.10,244.58 L184.35,244.26 L184.60,243.94 L184.85,243.61 L185.10,243.28 L185.35,242.94 L185.60,242.58 L185.85,242.21 L186.10,241.83 L186.35,241.42 L186.60,241.00 L186.85,240.54 L187.10,240.03 L187.35,239.48 L187.60,238.91 L187.85,238.31 L188.10,237.69 L188.35,237.07 L188.60,236.44 L188.85,235.83 L189.10,235.23 L189.35,234.66 L189.60,234.08 L189.85,233.51 L190.10,232.94 L190.35,232.37 L190.60,231.80 L190.85,231.23 L191.10,230.66 L191.35,230.08 L191.60,229.50 L191.85,228.92 L192.10,228.33 L192.35,227.74 L192.60,227.16 L192.85,226.57 L193.10,225.98 L193.35,225.38 L193.60,224.78 L193.85,224.17 L194.10,223.55 L194.35,222.93 L194.60,222.30 L194.85,221.65 L195.10,220.99 L195.35,220.31 L195.60,219.62 L195.85,218.93 L196.10,218.24 L196.35,217.55 L196.60,216.87 L196.85,216.20 L197.10,215.54 L197.35,214.91 L197.60,214.29 L197.85,213.68 L198.10,213.08 L198.35,212.48 L198.60,211.88 L198.85,211.27 L199.10,210.63 L199.35,209.98 L199.60,209.30 L199.85,208.59 L200.10,207.85 L200.35,207.08 L200.60,206.30 L200.85,205.49 L201.10,204.67 L201.35,203.83 L201.60,202.98 L201.85,202.13 L202.10,201.24 L202.35,200.33 L202.60,199.39 L202.85,198.44 L203.10,197.49 L203.35,196.56 L203.60,195.65 L203.85,194.78 L204.10,193.91 L204.35,193.05 L204.60,192.20 L204.85,191.37 L205.10,190.56 L205.35,189.76 L205.60,189.00 L205.85,188.28 L206.10,187.61 L206.35,186.97 L206.60,186.36 L206.85,185.75 L207.10,185.13 L207.35,184.48 L207.60,183.80 L207.85,183.06 L208.10,182.25 L208.35,181.39 L208.60,180.49 L208.85,179.55 L209.10,178.59 L209.35,177.60 L209.60,176.60 L209.85,175.60 L210.10,174.60 L210.35,173.57 L210.60,172.51 L210.85,171.44 L211.10,170.36 L211.35,169.29 L211.60,168.23 L211.85,167.20 L212.10,166.20 L212.35,165.21 L212.60,164.23 L212.85,163.26 L213.10,162.30 L213.35,161.34 L213.60,160.39 L213.85,159.44 L214.10,158.48 L214.35,157.53 L214.60,156.56 L214.85,155.59 L215.10,154.61 L215.35,153.61 L215.60,152.60 L215.85,151.59 L216.10,150.57 L216.35,149.55 L216.60,148.54 L216.85,147.52 L217.10,146.52 L217.35,145.52 L217.60,144.54 L217.85,143.57 L218.10,142.62 L218.35,141.70 L218.60,140.80 L218.85,139.91 L219.10,139.03 L219.35,138.16 L219.60,137.29 L219.85,136.41 L220.10,135.52 L220.35,134.62 L220.60,133.70 L220.85,132.76 L221.10,131.81 L221.35,130.84 L221.60,129.87 L221.85,128.88 L222.10,127.90 L222.35,126.91 L222.60,125.92 L222.85,124.94 L223.10,123.96 L223.35,122.98 L223.60,122.02 L223.85,121.07 L224.10,120.13 L224.35,119.21 L224.60,118.32 L224.85,117.45 L225.10,116.59 L225.35,115.73 L225.60,114.89 L225.85,114.04 L226.10,113.19 L226.35,112.32 L226.60,111.45 L226.85,110.55 L227.10,109.63 L227.35,108.69 L227.60,107.71 L227.85,106.69 L228.10,105.63 L228.35,104.52 L228.60,103.36 L228.85,102.17 L229.10,100.96 L229.35,99.73 L229.60,98.48 L229.85,97.23 L230.10,95.98 L230.35,94.74 L230.60,93.51 L230.85,92.27 L231.10,91.03 L231.35,89.77 L231.60,88.51 L231.85,87.25 L232.10,85.99 L232.35,84.73 L232.60,83.47 L232.85,82.23 L233.10,80.99 L233.35,79.76 L233.60,78.52 L233.85,77.27 L234.10,76.02 L234.35,74.78 L234.60,73.57 L234.85,72.38 L235.10,71.23 L235.35,70.13 L235.60,69.09 L235.85,68.11 L236.10,67.17 L236.35,66.27 L236.60,65.39 L236.85,64.53 L237.10,63.67 L237.35,62.80 L237.60,61.91 L237.85,60.99 L238.10,60.02 L238.35,59.00 L238.60,57.95 L238.85,56.89 L239.10,55.84 L239.35,54.82 L239.60,53.87 L239.85,52.98 L240.10,52.19 L240.35,51.45 L240.60,50.74 L240.85,50.07 L241.10,49.43 L241.35,48.81 L241.60,48.22 L241.85,47.66 L242.10,47.12 L242.35,46.60 L242.60,46.09 L242.85,45.58 L243.10,45.07 L243.35,44.55 L243.60,44.05 L243.85,43.56 L244.10,43.09 L244.35,42.64 L244.60,42.21 L244.85,41.82 L245.10,41.47 L245.35,41.16 L245.60,40.90 L245.85,40.64 L246.10,40.39 L246.35,40.14 L246.60,39.90 L246.85,39.67 L247.10,39.45 L247.35,39.24 L247.60,39.04 L247.85,38.86 L248.10,38.70 L248.35,38.56 L248.60,38.44 L248.85,38.34 L249.10,38.26 L249.35,38.22 L249.60,38.20 L249.85,38.21 L250.10,38.25 L250.35,38.32 L250.60,38.40 L250.85,38.51 L251.10,38.64 L251.35,38.79 L251.60,38.95 L251.85,39.13 L252.10,39.32 L252.35,39.52 L252.60,39.72 L252.85,39.93 L253.10,40.15 L253.35,40.37 L253.60,40.59 L253.85,40.84 L254.10,41.12 L254.35,41.43 L254.60,41.76 L254.85,42.12 L255.10,42.51 L255.35,42.91 L255.60,43.33 L255.85,43.77 L256.10,44.22 L256.35,44.68 L256.60,45.15 L256.85,45.63 L257.10,46.11 L257.35,46.60 L257.60,47.12 L257.85,47.70 L258.10,48.32 L258.35,48.99 L258.60,49.70 L258.85,50.44 L259.10,51.21 L259.35,52.01 L259.60,52.83 L259.85,53.72 L260.10,54.67 L260.35,55.67 L260.60,56.69 L260.85,57.73 L261.10,58.78 L261.35,59.80 L261.60,60.80 L261.85,61.77 L262.10,62.73 L262.35,63.68 L262.60,64.63 L262.85,65.58 L263.10,66.53 L263.35,67.48 L263.60,68.44 L263.85,69.41 L264.10,70.39 L264.35,71.39 L264.60,72.41 L264.85,73.44 L265.10,74.49 L265.35,75.55 L265.60,76.62 L265.85,77.70 L266.10,78.79 L266.35,79.89 L266.60,80.99 L266.85,82.10 L267.10,83.22 L267.35,84.33 L267.60,85.45 L267.85,86.57 L268.10,87.71 L268.35,88.85 L268.60,90.00 L268.85,91.15 L269.10,92.31 L269.35,93.47 L269.60,94.64 L269.85,95.80 L270.10,96.97 L270.35,98.15 L270.60,99.34 L270.85,100.53 L271.10,101.73 L271.35,102.93 L271.60,104.11 L271.85,105.29 L272.10,106.44 L272.35,107.58 L272.60,108.69 L272.85,109.79 L273.10,110.88 L273.35,111.96 L273.60,113.03 L273.85,114.10 L274.10,115.17 L274.35,116.25 L274.60,117.33 L274.85,118.43 L275.10,119.55 L275.35,120.68 L275.60,121.82 L275.85,122.97 L276.10,124.12 L276.35,125.29 L276.60,126.46 L276.85,127.64 L277.10,128.83 L277.35,130.03 L277.60,131.24 L277.85,132.46 L278.10,133.70 L278.35,134.96 L278.60,136.25 L278.85,137.57 L279.10,138.90 L279.35,140.25 L279.60,141.60 L279.85,142.95 L280.10,144.29 L280.35,145.62 L280.60,146.93 L280.85,148.21 L281.10,149.46 L281.35,150.67 L281.60,151.80 L281.85,152.89 L282.10,153.97 L282.35,155.08 L282.60,156.24 L282.85,157.44 L283.10,158.68 L283.35,159.94 L283.60,161.22 L283.85,162.52 L284.10,163.85 L284.35,165.21 L284.60,166.57 L284.85,167.95 L285.10,169.32 L285.35,170.71 L285.60,172.11 L285.85,173.50 L286.10,174.89 L286.35,176.28 L286.60,177.66 L286.85,179.03 L287.10,180.37 L287.35,181.70 L287.60,183.00 L287.85,184.29 L288.10,185.55 L288.35,186.79 L288.60,188.02 L288.85,189.22 L289.10,190.40 L289.35,191.55 L289.60,192.66 L289.85,193.75 L290.10,194.82 L290.35,195.87 L290.60,196.89 L290.85,197.88 L291.10,198.85 L291.35,199.81 L291.60,200.75 L291.85,201.67 L292.10,202.57 L292.35,203.45 L292.60,204.31 L292.85,205.15 L293.10,205.98 L293.35,206.80 L293.60,207.60 L293.85,208.39 L294.10,209.16 L294.35,209.91 L294.60,210.65 L294.85,211.38 L295.10,212.09 L295.35,212.80 L295.60,213.49 L295.85,214.18 L296.10,214.85 L296.35,215.51 L296.60,216.15 L296.85,216.79 L297.10,217.42 L297.35,218.05 L297.60,218.66 L297.85,219.27 L298.10,219.87 L298.35,220.46 L298.60,221.04 L298.85,221.62 L299.10,222.18 L299.35,222.74 L299.60,223.29 L299.85,223.83 L300.10,224.38 L300.35,224.91 L300.60,225.44 L300.85,225.96 L301.10,226.48 L301.35,226.99 L301.60,227.49 L301.85,227.98 L302.10,228.47 L302.35,228.95 L302.60,229.42 L302.85,229.89 L303.10,230.36 L303.35,230.82 L303.60,231.27 L303.85,231.73 L304.10,232.18 L304.35,232.63 L304.60,233.08 L304.85,233.53 L305.10,233.98 L305.35,234.43 L305.60,234.89 L305.85,235.34 L306.10,235.79 L306.35,236.25 L306.60,236.70 L306.85,237.15 L307.10,237.60 L307.35,238.04 L307.60,238.48 L307.85,238.91 L308.10,239.34 L308.35,239.76 L308.60,240.17 L308.85,240.57 L309.10,240.97 L309.35,241.37 L309.60,241.76 L309.85,242.15 L310.10,242.54 L310.35,242.92 L310.60,243.29 L310.85,243.66 L311.10,244.02 L311.35,244.37 L311.60,244.71 L311.85,245.03 L312.10,245.35 L312.35,245.65 L312.60,245.94 L312.85,246.23 L313.10,246.52 L313.35,246.79 L313.60,247.06 L313.85,247.33 L314.10,247.58 L314.35,247.83 L314.60,248.07 L314.85,248.30 L315.10,248.53 L315.35,248.74 L315.60,248.94 L315.85,249.14 L316.10,249.34 L316.35,249.54 L316.60,249.73 L316.85,249.92 L317.10,250.10 L317.35,250.27 L317.60,250.44 L317.85,250.59 L318.10,250.73 L318.35,250.86 L318.60,250.97 L318.85,251.09 L319.10,251.20 L319.35,251.31 L319.60,251.42 L319.85,251.53 L320.10,251.64 L320.35,251.75 L320.60,251.85 L320.85,251.95 L321.10,252.04 L321.35,252.13 L321.60,252.22 L321.85,252.30 L322.10,252.37 L322.35,252.43 L322.60,252.49 L322.85,252.55 L323.10,252.59 L323.35,252.62 L323.60,252.65 L323.85,252.68 L324.10,252.71 L324.35,252.74 L324.60,252.76 L324.85,252.79 L325.10,252.81 L325.35,252.83 L325.60,252.85 L325.85,252.87 L326.10,252.88 L326.35,252.89 L326.60,252.90 L326.85,252.91 L327.10,252.91 L327.35,252.91 L327.60,252.90 L327.85,252.89 L328.10,252.88 L328.35,252.86 L328.60,252.83 L328.85,252.81 L329.10,252.78 L329.35,252.75 L329.60,252.72 L329.85,252.68 L330.10,252.65 L330.35,252.61 L330.60,252.57 L330.85,252.53 L331.10,252.49 L331.35,252.45 L331.60,252.41 L331.85,252.36 L332.10,252.32 L332.35,252.28 L332.60,252.23 L332.85,252.19 L333.10,252.14 L333.35,252.10 L333.60,252.05 L333.85,252.00 L334.10,251.95 L334.35,251.90 L334.60,251.85 L334.85,251.80 L335.10,251.75 L335.35,251.70 L335.60,251.65 L335.85,251.59 L336.10,251.54 L336.35,251.49 L336.60,251.43 L336.85,251.38 L337.10,251.32 L337.35,251.27 L337.60,251.22 L337.85,251.16 L338.10,251.11 L338.35,251.05 L338.60,251.00 L338.85,250.94 L339.10,250.89 L339.35,250.83 L339.60,250.77 L339.85,250.71 L340.10,250.65 L340.35,250.60 L340.60,250.54 L340.85,250.48 L341.10,250.42 L341.35,250.37 L341.60,250.31 L341.85,250.26 L342.10,250.20 L342.35,250.15 L342.60,250.10 L342.85,250.05 L343.10,250.00 L343.35,249.95 L343.60,249.91 L343.85,249.86 L344.10,249.81 L344.35,249.76 L344.60,249.72 L344.85,249.67 L345.10,249.63 L345.35,249.58 L345.60,249.54 L345.85,249.49 L346.10,249.45 L346.35,249.41 L346.60,249.37 L346.85,249.33 L347.10,249.29 L347.35,249.25 L347.60,249.21 L347.85,249.17 L348.10,249.14 L348.35,249.10 L348.60,249.07 L348.85,249.04 L349.10,249.01 L349.35,248.98 L349.60,248.95 L349.85,248.92 L350.10,248.90 L350.35,248.88 L350.60,248.85 L350.85,248.84 L351.10,248.82 L351.35,248.80 L351.60,248.79 L351.85,248.78 L352.10,248.77 L352.35,248.76 L352.60,248.75 L352.85,248.75 L353.10,248.75 L353.35,248.75 L353.60,248.75 L353.85,248.75 L354.10,248.76 L354.35,248.77 L354.60,248.78 L354.85,248.79 L355.10,248.81 L355.35,248.83 L355.60,248.85 L355.85,248.89 L356.10,248.93 L356.35,248.97 L356.60,249.02 L356.85,249.07 L357.10,249.13 L357.35,249.19 L357.60,249.25 L357.85,249.32 L358.10,249.39 L358.35,249.46 L358.60,249.53 L358.85,249.61 L359.10,249.69 L359.35,249.77 L359.60,249.85 L359.85,249.93 L360.10,250.01 L360.35,250.09 L360.60,250.17 L360.85,250.25 L361.10,250.33 L361.35,250.42 L361.60,250.51 L361.85,250.60 L362.10,250.70 L362.35,250.80 L362.60,250.90 L362.85,251.00 L363.10,251.11 L363.35,251.21 L363.60,251.32 L363.85,251.42 L364.10,251.53 L364.35,251.63 L364.60,251.74 L364.85,251.84 L365.10,251.95 L365.35,252.05 L365.60,252.15 L365.85,252.24 L366.10,252.34 L366.35,252.43 L366.60,252.52 L366.85,252.62 L367.10,252.71 L367.35,252.80 L367.60,252.89 L367.85,252.99 L368.10,253.08 L368.35,253.17 L368.60,253.26 L368.85,253.35 L369.10,253.44 L369.35,253.53 L369.60,253.62 L369.85,253.71 L370.10,253.80 L370.35,253.89 L370.60,253.97 L370.85,254.06 L371.10,254.15 L371.35,254.24 L371.60,254.33 L371.85,254.42 L372.10,254.51 L372.35,254.60 L372.60,254.69 L372.85,254.78 L373.10,254.88 L373.35,254.97 L373.60,255.06 L373.85,255.16 L374.10,255.25 L374.35,255.34 L374.60,255.43 L374.85,255.52 L375.10,255.61 L375.35,255.70 L375.60,255.78 L375.85,255.86 L376.10,255.94 L376.35,256.02 L376.60,256.09 L376.85,256.16 L377.10,256.23 L377.35,256.29 L377.60,256.36 L377.85,256.42 L378.10,256.48 L378.35,256.54 L378.60,256.60 L378.85,256.66 L379.10,256.72 L379.35,256.78 L379.60,256.84 L379.85,256.89 L380.10,256.94 L380.35,256.99 L380.60,257.04 L380.85,257.09 L381.10,257.14 L381.35,257.18 L381.60,257.22 L381.85,257.26 L382.10,257.30 L382.35,257.33 L382.60,257.36 L382.85,257.39 L383.10,257.42 L383.35,257.45 L383.60,257.48 L383.85,257.51 L384.10,257.53 L384.35,257.56 L384.60,257.59 L384.85,257.61 L385.10,257.64 L385.35,257.66 L385.60,257.69 L385.85,257.71 L386.10,257.74 L386.35,257.76 L386.60,257.78 L386.85,257.80 L387.10,257.83 L387.35,257.85 L387.60,257.87 L387.85,257.88 L388.10,257.90 L388.35,257.92 L388.60,257.94 L388.85,257.95 L389.10,257.97 L389.35,257.98 L389.60,257.99 L389.85,258.00 L390.10,258.01 L390.35,258.02 L390.60,258.04 L390.85,258.05 L391.10,258.06 L391.35,258.07 L391.60,258.08 L391.85,258.09 L392.10,258.10 L392.35,258.11 L392.60,258.13 L392.85,258.14 L393.10,258.14 L393.35,258.15 L393.60,258.16 L393.85,258.17 L394.10,258.18 L394.35,258.18 L394.60,258.19 L394.85,258.19 L395.10,258.20 L395.35,258.20 L395.60,258.20 L395.85,258.20 L396.10,258.20 L396.35,258.20 L396.60,258.20 L396.85,258.20 L397.10,258.20 L397.35,258.20 L397.60,258.20 L397.85,258.20 L398.10,258.20 L398.35,258.20 L398.60,258.20 L398.85,258.20 L399.10,258.20 L399.35,258.20 L399.60,258.20 L399.85,258.20 L400.10,258.20 L400.35,258.20 L400.60,258.20 L400.85,258.20 L401.10,258.20 L401.35,258.20 L401.60,258.20 L401.85,258.20 L402.10,258.20 L402.35,258.20 L402.60,258.20 L402.85,258.20 L403.10,258.20 L403.35,258.20 L403.60,258.20 L403.85,258.20 L404.10,258.20 L404.35,258.20 L404.60,258.20 L404.85,258.20 L405.10,258.20 L405.35,258.20 L405.60,258.20 L405.85,258.20 L406.10,258.20 L406.35,258.20 L406.60,258.20 L406.85,258.20 L407.10,258.20 L407.35,258.20 L407.60,258.20 L407.85,258.20 L408.10,258.20 L408.35,258.20 L408.60,258.20 L408.85,258.20 L409.10,258.20 L409.35,258.20 L409.60,258.21 L409.85,258.21 L410.10,258.21 L410.35,258.22 L410.60,258.22 L410.85,258.23 L411.10,258.23 L411.35,258.24 L411.60,258.24 L411.85,258.25 L412.10,258.26 L412.35,258.26 L412.60,258.27 L412.85,258.27 L413.10,258.28 L413.35,258.29 L413.60,258.29 L413.85,258.30 L414.10,258.30 L414.35,258.31 L414.60,258.31 L414.85,258.32 L415.10,258.32 L415.35,258.33 L415.60,258.34 L415.85,258.34 L416.10,258.35 L416.35,258.36 L416.60,258.37 L416.85,258.37 L417.10,258.38 L417.35,258.39 L417.60,258.40 L417.85,258.41 L418.10,258.42 L418.35,258.43 L418.60,258.44 L418.85,258.45 L419.10,258.46 L419.35,258.47 L419.60,258.48 L419.85,258.50 L420.10,258.51 L420.35,258.53 L420.60,258.55 L420.85,258.57 L421.10,258.59 L421.35,258.61 L421.60,258.63 L421.85,258.66 L422.10,258.69 L422.35,258.71 L422.60,258.74 L422.85,258.77 L423.10,258.80 L423.35,258.83 L423.60,258.85 L423.85,258.88 L424.10,258.91 L424.35,258.94 L424.60,258.96 L424.85,258.99 L425.10,259.01 L425.35,259.03 L425.60,259.05 L425.85,259.07 L426.10,259.09 L426.35,259.11 L426.60,259.13 L426.85,259.15 L427.10,259.17 L427.35,259.18 L427.60,259.20 L427.85,259.22 L428.10,259.24 L428.35,259.26 L428.60,259.28 L428.85,259.30 L429.10,259.32 L429.35,259.34 L429.60,259.37 L429.85,259.39 L430.10,259.42 L430.35,259.45 L430.60,259.48 L430.85,259.52 L431.10,259.55 L431.35,259.59 L431.60,259.63 L431.85,259.67 L432.10,259.71 L432.35,259.75 L432.60,259.80 L432.85,259.84 L433.10,259.89 L433.35,259.93 L433.60,259.98 L433.85,260.02 L434.10,260.07 L434.35,260.12 L434.60,260.16 L434.85,260.21 L435.10,260.26 L435.35,260.31 L435.60,260.36 L435.85,260.41 L436.10,260.46 L436.35,260.51 L436.60,260.57 L436.85,260.62 L437.10,260.67 L437.35,260.73 L437.60,260.78 L437.85,260.84 L438.10,260.89 L438.35,260.95 L438.60,261.00 L438.85,261.05 L439.10,261.10 L439.35,261.15 L439.60,261.20 L439.85,261.25 L440.10,261.30 L440.35,261.34 L440.60,261.39 L440.85,261.43 L441.10,261.48 L441.35,261.52 L441.60,261.57 L441.85,261.61 L442.10,261.66 L442.35,261.70 L442.60,261.74 L442.85,261.78 L443.10,261.82 L443.35,261.87 L443.60,261.91 L443.85,261.95 L444.10,261.98 L444.35,262.02 L444.60,262.06 L444.85,262.10 L445.10,262.13 L445.35,262.17 L445.60,262.21 L445.85,262.24 L446.10,262.28 L446.35,262.32 L446.60,262.35 L446.85,262.39 L447.10,262.42 L447.35,262.46 L447.60,262.49 L447.85,262.52 L448.10,262.56 L448.35,262.59 L448.60,262.62 L448.85,262.64 L449.10,262.67 L449.35,262.70 L449.60,262.72 L449.85,262.74 L450.10,262.77 L450.35,262.79 L450.60,262.80 L450.85,262.82 L451.10,262.84 L451.35,262.86 L451.60,262.87 L451.85,262.89 L452.10,262.90 L452.35,262.92 L452.60,262.93 L452.85,262.95 L453.10,262.96 L453.35,262.98 L453.60,262.99 L453.85,263.01 L454.10,263.03 L454.35,263.04 L454.60,263.06 L454.85,263.08 L455.10,263.10 L455.35,263.12 L455.60,263.14 L455.85,263.16 L456.10,263.18 L456.35,263.20 L456.60,263.22 L456.85,263.24 L457.10,263.26 L457.35,263.28 L457.60,263.30 L457.85,263.33 L458.10,263.35 L458.35,263.37 L458.60,263.40 L458.85,263.42 L459.10,263.45 L459.35,263.47 L459.60,263.50 L459.85,263.53 L460.10,263.56 L460.35,263.59 L460.60,263.62 L460.85,263.66 L461.10,263.69 L461.35,263.73 L461.60,263.77 L461.85,263.81 L462.10,263.85 L462.35,263.89 L462.60,263.93 L462.85,263.97 L463.10,264.01 L463.35,264.05 L463.60,264.10 L463.85,264.14 L464.10,264.18 L464.35,264.23 L464.60,264.27 L464.85,264.31 L465.10,264.35 L465.35,264.39 L465.60,264.43 L465.85,264.47 L466.10,264.51 L466.35,264.55 L466.60,264.59 L466.85,264.62 L467.10,264.66 L467.35,264.69 L467.60,264.72 L467.85,264.75 L468.10,264.78 L468.35,264.82 L468.60,264.85 L468.85,264.88 L469.10,264.91 L469.35,264.94 L469.60,264.97 L469.85,265.00 L470.10,265.02 L470.35,265.05 L470.60,265.08 L470.85,265.11 L471.10,265.14 L471.35,265.16 L471.60,265.19 L471.85,265.22 L472.10,265.24 L472.35,265.27 L472.60,265.29 L472.85,265.32 L473.10,265.34 L473.35,265.36 L473.60,265.39 L473.85,265.41 L474.10,265.43 L474.35,265.45 L474.60,265.47 L474.85,265.49 L475.10,265.51 L475.35,265.52 L475.60,265.54 L475.85,265.56 L476.10,265.57 L476.35,265.59 L476.60,265.60 L476.85,265.62 L477.10,265.63 L477.35,265.64 L477.60,265.66 L477.85,265.67 L478.10,265.68 L478.35,265.70 L478.60,265.71 L478.85,265.72 L479.10,265.73 L479.35,265.75 L479.60,265.76 L479.85,265.77 L480.10,265.79 L480.35,265.80 L480.60,265.81 L480.85,265.83 L481.10,265.84 L481.35,265.86 L481.60,265.87 L481.85,265.89 L482.10,265.91 L482.35,265.92 L482.60,265.94 L482.85,265.96 L483.10,265.98 L483.35,266.00 L483.60,266.01 L483.85,266.03 L484.10,266.05 L484.35,266.07 L484.60,266.09 L484.85,266.11 L485.10,266.13 L485.35,266.15 L485.60,266.17 L485.85,266.19 L486.10,266.21 L486.35,266.23 L486.60,266.25 L486.85,266.27 L487.10,266.29 L487.35,266.31 L487.60,266.33 L487.85,266.35 L488.10,266.37 L488.35,266.40 L488.40,266.40" fill="none" stroke="#ff00ff" stroke-width="2.4" stroke-linejoin="round" stroke-linecap="round"/>
<text x="29.54" y="300.8" font-size="22" text-anchor="middle" font-family="Liberation Serif" fill="#000" stroke="#000" stroke-width="0.3" text-rendering="geometricPrecision">300</text>
<text x="155.79" y="300.8" font-size="22" text-anchor="middle" font-family="Liberation Serif" fill="#000" stroke="#000" stroke-width="0.3" text-rendering="geometricPrecision">400</text>
<text x="282.05" y="300.8" font-size="22" text-anchor="middle" font-family="Liberation Serif" fill="#000" stroke="#000" stroke-width="0.3" text-rendering="geometricPrecision">500</text>
<text x="408.31" y="300.8" font-size="22" text-anchor="middle" font-family="Liberation Serif" fill="#000" stroke="#000" stroke-width="0.3" text-rendering="geometricPrecision">600</text>
<text transform="translate(179.3,329.8)" font-size="24" font-family="Liberation Serif" fill="#000" stroke="#000" stroke-width="0.3" text-rendering="geometricPrecision">Temperature (K)</text>
<text transform="translate(17.1,201.9) rotate(-90)" font-size="24" letter-spacing="0.45" font-family="Liberation Serif" fill="#000" stroke="#000" stroke-width="0.3" text-rendering="geometricPrecision">TSL</text>
<text transform="translate(17.1,147.85) rotate(-90) scale(0.986,1)" font-size="24" font-family="Liberation Serif" fill="#000" stroke="#000" stroke-width="0.3" text-rendering="geometricPrecision">Intensity</text>
<text transform="translate(82.3,116.9)" font-size="24" text-anchor="middle" font-family="Liberation Serif" fill="#000" stroke="#000" stroke-width="0.3" text-rendering="geometricPrecision">1</text>
<text transform="translate(156.1,31.9)" font-size="24" text-anchor="middle" font-family="Liberation Serif" fill="#000" stroke="#000" stroke-width="0.3" text-rendering="geometricPrecision">2</text>
<text transform="translate(270.5,32.5)" font-size="24" text-anchor="middle" font-family="Liberation Serif" fill="#000" stroke="#000" stroke-width="0.3" text-rendering="geometricPrecision">3</text>
</svg>
</body></html>
